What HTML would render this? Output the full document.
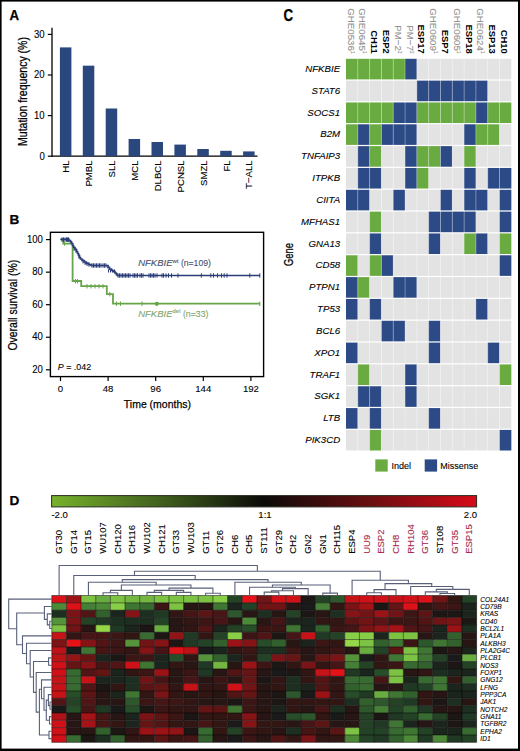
<!DOCTYPE html>
<html><head><meta charset="utf-8"><style>
html,body{margin:0;padding:0;background:#fff;}
body{width:520px;height:751px;overflow:hidden;position:relative;font-family:"Liberation Sans",sans-serif;}
svg{position:absolute;left:0;top:0;display:block;}
</style></head><body>
<svg width="520" height="751" viewBox="0 0 520 751">
<rect x="0" y="0" width="520" height="751" fill="#fff"/>
<text x="9.40" y="20.20" font-family="Liberation Sans, sans-serif" font-size="14.0" font-weight="bold" textLength="9.6" lengthAdjust="spacingAndGlyphs"  stroke="#000" stroke-width="0.25">A</text>
<line x1="52.00" y1="27.80" x2="52.00" y2="156.80" stroke="#000" stroke-width="1.3"/>
<line x1="51.40" y1="156.20" x2="257.50" y2="156.20" stroke="#000" stroke-width="1.3"/>
<line x1="47.80" y1="156.20" x2="52.00" y2="156.20" stroke="#000" stroke-width="1.2"/>
<text x="44.70" y="159.50" font-family="Liberation Sans, sans-serif" font-size="10.4" text-anchor="end" textLength="5.32" lengthAdjust="spacingAndGlyphs"  stroke="#000" stroke-width="0.1">0</text>
<line x1="47.80" y1="115.60" x2="52.00" y2="115.60" stroke="#000" stroke-width="1.2"/>
<text x="44.70" y="118.90" font-family="Liberation Sans, sans-serif" font-size="10.4" text-anchor="end" textLength="10.64" lengthAdjust="spacingAndGlyphs"  stroke="#000" stroke-width="0.1">10</text>
<line x1="47.80" y1="75.00" x2="52.00" y2="75.00" stroke="#000" stroke-width="1.2"/>
<text x="44.70" y="78.30" font-family="Liberation Sans, sans-serif" font-size="10.4" text-anchor="end" textLength="10.64" lengthAdjust="spacingAndGlyphs"  stroke="#000" stroke-width="0.1">20</text>
<line x1="47.80" y1="34.40" x2="52.00" y2="34.40" stroke="#000" stroke-width="1.2"/>
<text x="44.70" y="37.70" font-family="Liberation Sans, sans-serif" font-size="10.4" text-anchor="end" textLength="10.64" lengthAdjust="spacingAndGlyphs"  stroke="#000" stroke-width="0.1">30</text>
<text transform="translate(27.30,146.00) rotate(-90)" font-family="Liberation Sans, sans-serif" font-size="12.2" textLength="109" lengthAdjust="spacingAndGlyphs"  stroke="#000" stroke-width="0.25">Mutation frequency (%)</text>
<rect x="59.90" y="47.39" width="11.50" height="108.81" fill="#2b487e" />
<text transform="translate(69.25,160.40) rotate(-90)" font-family="Liberation Sans, sans-serif" font-size="9.6" text-anchor="end"  stroke="#000" stroke-width="0.1">HL</text>
<rect x="82.80" y="65.66" width="11.50" height="90.54" fill="#2b487e" />
<text transform="translate(92.15,160.40) rotate(-90)" font-family="Liberation Sans, sans-serif" font-size="9.6" text-anchor="end"  stroke="#000" stroke-width="0.1">PMBL</text>
<rect x="105.70" y="108.49" width="11.50" height="47.70" fill="#2b487e" />
<text transform="translate(115.05,160.40) rotate(-90)" font-family="Liberation Sans, sans-serif" font-size="9.6" text-anchor="end"  stroke="#000" stroke-width="0.1">SLL</text>
<rect x="128.60" y="138.99" width="11.50" height="17.21" fill="#2b487e" />
<text transform="translate(137.95,160.40) rotate(-90)" font-family="Liberation Sans, sans-serif" font-size="9.6" text-anchor="end"  stroke="#000" stroke-width="0.1">MCL</text>
<rect x="151.50" y="141.99" width="11.50" height="14.21" fill="#2b487e" />
<text transform="translate(160.85,160.40) rotate(-90)" font-family="Liberation Sans, sans-serif" font-size="9.6" text-anchor="end"  stroke="#000" stroke-width="0.1">DLBCL</text>
<rect x="174.40" y="144.59" width="11.50" height="11.61" fill="#2b487e" />
<text transform="translate(183.75,160.40) rotate(-90)" font-family="Liberation Sans, sans-serif" font-size="9.6" text-anchor="end"  stroke="#000" stroke-width="0.1">PCNSL</text>
<rect x="197.30" y="149.01" width="11.50" height="7.19" fill="#2b487e" />
<text transform="translate(206.65,160.40) rotate(-90)" font-family="Liberation Sans, sans-serif" font-size="9.6" text-anchor="end"  stroke="#000" stroke-width="0.1">SMZL</text>
<rect x="220.20" y="150.80" width="11.50" height="5.40" fill="#2b487e" />
<text transform="translate(229.55,160.40) rotate(-90)" font-family="Liberation Sans, sans-serif" font-size="9.6" text-anchor="end"  stroke="#000" stroke-width="0.1">FL</text>
<rect x="243.10" y="151.41" width="11.50" height="4.79" fill="#2b487e" />
<text transform="translate(252.45,160.40) rotate(-90)" font-family="Liberation Sans, sans-serif" font-size="9.6" text-anchor="end"  stroke="#000" stroke-width="0.1">T−ALL</text>
<text x="9.60" y="223.80" font-family="Liberation Sans, sans-serif" font-size="13.6" font-weight="bold"  stroke="#000" stroke-width="0.25">B</text>
<rect x="50.4" y="232.3" width="213.20000000000002" height="144.3" fill="none" stroke="#000" stroke-width="1.4"/>
<line x1="45.90" y1="239.60" x2="50.40" y2="239.60" stroke="#000" stroke-width="1.2"/>
<text x="42.90" y="242.80" font-family="Liberation Sans, sans-serif" font-size="10.4" text-anchor="end" textLength="15.96" lengthAdjust="spacingAndGlyphs"  stroke="#000" stroke-width="0.1">100</text>
<line x1="45.90" y1="272.15" x2="50.40" y2="272.15" stroke="#000" stroke-width="1.2"/>
<text x="42.90" y="275.35" font-family="Liberation Sans, sans-serif" font-size="10.4" text-anchor="end" textLength="10.64" lengthAdjust="spacingAndGlyphs"  stroke="#000" stroke-width="0.1">80</text>
<line x1="45.90" y1="304.70" x2="50.40" y2="304.70" stroke="#000" stroke-width="1.2"/>
<text x="42.90" y="307.90" font-family="Liberation Sans, sans-serif" font-size="10.4" text-anchor="end" textLength="10.64" lengthAdjust="spacingAndGlyphs"  stroke="#000" stroke-width="0.1">60</text>
<line x1="45.90" y1="337.25" x2="50.40" y2="337.25" stroke="#000" stroke-width="1.2"/>
<text x="42.90" y="340.45" font-family="Liberation Sans, sans-serif" font-size="10.4" text-anchor="end" textLength="10.64" lengthAdjust="spacingAndGlyphs"  stroke="#000" stroke-width="0.1">40</text>
<line x1="45.90" y1="369.80" x2="50.40" y2="369.80" stroke="#000" stroke-width="1.2"/>
<text x="42.90" y="373.00" font-family="Liberation Sans, sans-serif" font-size="10.4" text-anchor="end" textLength="10.64" lengthAdjust="spacingAndGlyphs"  stroke="#000" stroke-width="0.1">20</text>
<line x1="60.50" y1="376.60" x2="60.50" y2="381.00" stroke="#000" stroke-width="1.2"/>
<text x="60.50" y="392.00" font-family="Liberation Sans, sans-serif" font-size="9.6" text-anchor="middle"  stroke="#000" stroke-width="0.1">0</text>
<line x1="108.10" y1="376.60" x2="108.10" y2="381.00" stroke="#000" stroke-width="1.2"/>
<text x="108.10" y="392.00" font-family="Liberation Sans, sans-serif" font-size="9.6" text-anchor="middle"  stroke="#000" stroke-width="0.1">48</text>
<line x1="155.70" y1="376.60" x2="155.70" y2="381.00" stroke="#000" stroke-width="1.2"/>
<text x="155.70" y="392.00" font-family="Liberation Sans, sans-serif" font-size="9.6" text-anchor="middle"  stroke="#000" stroke-width="0.1">96</text>
<line x1="203.30" y1="376.60" x2="203.30" y2="381.00" stroke="#000" stroke-width="1.2"/>
<text x="203.30" y="392.00" font-family="Liberation Sans, sans-serif" font-size="9.6" text-anchor="middle"  stroke="#000" stroke-width="0.1">144</text>
<line x1="250.90" y1="376.60" x2="250.90" y2="381.00" stroke="#000" stroke-width="1.2"/>
<text x="250.90" y="392.00" font-family="Liberation Sans, sans-serif" font-size="9.6" text-anchor="middle"  stroke="#000" stroke-width="0.1">192</text>
<text transform="translate(17.20,350.60) rotate(-90)" font-family="Liberation Sans, sans-serif" font-size="12.0" textLength="90.8" lengthAdjust="spacingAndGlyphs"  stroke="#000" stroke-width="0.25">Overall survival (%)</text>
<text x="123.80" y="407.80" font-family="Liberation Sans, sans-serif" font-size="11.6" textLength="67.2" lengthAdjust="spacingAndGlyphs"  stroke="#000" stroke-width="0.25">Time (months)</text>
<text x="57.80" y="369.60" font-family="Liberation Sans, sans-serif" font-size="9.4" textLength="33.3" lengthAdjust="spacingAndGlyphs"  stroke="#000" stroke-width="0.1"><tspan font-style="italic">P</tspan> = .042</text>
<path d="M60.50,239.40 H63.20 V239.40 H63.20 V243.60 H72.60 V243.60 H72.60 V281.00 H81.20 V281.00 H81.20 V286.20 H106.80 V286.20 H106.80 V294.20 H113.00 V294.20 H113.00 V303.70 H260.00 V303.70" fill="none" stroke="#66a549" stroke-width="1.8"/>
<path d="M60.50,239.40 H66.00 V239.40 H69.00 V240.60 H70.50 V241.80 H71.50 V243.50 H72.50 V245.50 H73.50 V247.50 H75.00 V249.50 H76.50 V251.50 H77.50 V253.50 H78.50 V255.50 H79.50 V257.50 H80.50 V259.00 H82.00 V260.50 H84.00 V262.00 H86.00 V263.40 H88.50 V264.50 H91.00 V265.50 H106.50 V265.50 H108.00 V267.30 H109.50 V269.20 H111.50 V270.50 H113.50 V271.60 H115.00 V273.00 H116.30 V274.30 H117.30 V275.50 H260.00 V275.50" fill="none" stroke="#2b3c78" stroke-width="1.7"/>
<line x1="62.00" y1="237.40" x2="62.00" y2="241.80" stroke="#2b3c78" stroke-width="1.0"/>
<line x1="63.50" y1="237.40" x2="63.50" y2="241.80" stroke="#2b3c78" stroke-width="1.0"/>
<line x1="65.00" y1="237.40" x2="65.00" y2="241.80" stroke="#2b3c78" stroke-width="1.0"/>
<line x1="66.50" y1="237.40" x2="66.50" y2="241.80" stroke="#2b3c78" stroke-width="1.0"/>
<line x1="67.50" y1="237.40" x2="67.50" y2="241.80" stroke="#2b3c78" stroke-width="1.0"/>
<line x1="68.50" y1="237.40" x2="68.50" y2="241.80" stroke="#2b3c78" stroke-width="1.0"/>
<line x1="74.00" y1="246.30" x2="74.00" y2="250.70" stroke="#2b3c78" stroke-width="1.0"/>
<line x1="76.00" y1="248.30" x2="76.00" y2="252.70" stroke="#2b3c78" stroke-width="1.0"/>
<line x1="79.00" y1="254.30" x2="79.00" y2="258.70" stroke="#2b3c78" stroke-width="1.0"/>
<line x1="83.00" y1="259.10" x2="83.00" y2="263.50" stroke="#2b3c78" stroke-width="1.0"/>
<line x1="85.00" y1="260.50" x2="85.00" y2="264.90" stroke="#2b3c78" stroke-width="1.0"/>
<line x1="87.00" y1="261.60" x2="87.00" y2="266.00" stroke="#2b3c78" stroke-width="1.0"/>
<line x1="89.00" y1="262.40" x2="89.00" y2="266.80" stroke="#2b3c78" stroke-width="1.0"/>
<line x1="92.00" y1="263.30" x2="92.00" y2="267.70" stroke="#2b3c78" stroke-width="1.0"/>
<line x1="93.50" y1="263.30" x2="93.50" y2="267.70" stroke="#2b3c78" stroke-width="1.0"/>
<line x1="95.00" y1="263.30" x2="95.00" y2="267.70" stroke="#2b3c78" stroke-width="1.0"/>
<line x1="96.50" y1="263.30" x2="96.50" y2="267.70" stroke="#2b3c78" stroke-width="1.0"/>
<line x1="98.00" y1="263.30" x2="98.00" y2="267.70" stroke="#2b3c78" stroke-width="1.0"/>
<line x1="99.50" y1="263.30" x2="99.50" y2="267.70" stroke="#2b3c78" stroke-width="1.0"/>
<line x1="101.00" y1="263.30" x2="101.00" y2="267.70" stroke="#2b3c78" stroke-width="1.0"/>
<line x1="103.00" y1="263.30" x2="103.00" y2="267.70" stroke="#2b3c78" stroke-width="1.0"/>
<line x1="104.50" y1="263.30" x2="104.50" y2="267.70" stroke="#2b3c78" stroke-width="1.0"/>
<line x1="106.00" y1="263.30" x2="106.00" y2="267.70" stroke="#2b3c78" stroke-width="1.0"/>
<line x1="108.50" y1="269.50" x2="108.50" y2="272.50" stroke="#2b3c78" stroke-width="1.0"/>
<line x1="110.50" y1="269.50" x2="110.50" y2="272.50" stroke="#2b3c78" stroke-width="1.0"/>
<line x1="112.50" y1="269.50" x2="112.50" y2="272.50" stroke="#2b3c78" stroke-width="1.0"/>
<line x1="114.50" y1="269.50" x2="114.50" y2="272.50" stroke="#2b3c78" stroke-width="1.0"/>
<line x1="118.00" y1="273.30" x2="118.00" y2="277.70" stroke="#2b3c78" stroke-width="1.0"/>
<line x1="119.50" y1="273.30" x2="119.50" y2="277.70" stroke="#2b3c78" stroke-width="1.0"/>
<line x1="121.00" y1="273.30" x2="121.00" y2="277.70" stroke="#2b3c78" stroke-width="1.0"/>
<line x1="122.50" y1="273.30" x2="122.50" y2="277.70" stroke="#2b3c78" stroke-width="1.0"/>
<line x1="124.00" y1="273.30" x2="124.00" y2="277.70" stroke="#2b3c78" stroke-width="1.0"/>
<line x1="125.50" y1="273.30" x2="125.50" y2="277.70" stroke="#2b3c78" stroke-width="1.0"/>
<line x1="127.00" y1="273.30" x2="127.00" y2="277.70" stroke="#2b3c78" stroke-width="1.0"/>
<line x1="128.50" y1="273.30" x2="128.50" y2="277.70" stroke="#2b3c78" stroke-width="1.0"/>
<line x1="130.00" y1="273.30" x2="130.00" y2="277.70" stroke="#2b3c78" stroke-width="1.0"/>
<line x1="133.00" y1="273.30" x2="133.00" y2="277.70" stroke="#2b3c78" stroke-width="1.0"/>
<line x1="134.50" y1="273.30" x2="134.50" y2="277.70" stroke="#2b3c78" stroke-width="1.0"/>
<line x1="136.00" y1="273.30" x2="136.00" y2="277.70" stroke="#2b3c78" stroke-width="1.0"/>
<line x1="137.50" y1="273.30" x2="137.50" y2="277.70" stroke="#2b3c78" stroke-width="1.0"/>
<line x1="140.00" y1="273.30" x2="140.00" y2="277.70" stroke="#2b3c78" stroke-width="1.0"/>
<line x1="141.50" y1="273.30" x2="141.50" y2="277.70" stroke="#2b3c78" stroke-width="1.0"/>
<line x1="143.00" y1="273.30" x2="143.00" y2="277.70" stroke="#2b3c78" stroke-width="1.0"/>
<line x1="149.00" y1="273.30" x2="149.00" y2="277.70" stroke="#2b3c78" stroke-width="1.0"/>
<line x1="150.50" y1="273.30" x2="150.50" y2="277.70" stroke="#2b3c78" stroke-width="1.0"/>
<line x1="152.00" y1="273.30" x2="152.00" y2="277.70" stroke="#2b3c78" stroke-width="1.0"/>
<line x1="153.50" y1="273.30" x2="153.50" y2="277.70" stroke="#2b3c78" stroke-width="1.0"/>
<line x1="155.00" y1="273.30" x2="155.00" y2="277.70" stroke="#2b3c78" stroke-width="1.0"/>
<line x1="157.00" y1="273.30" x2="157.00" y2="277.70" stroke="#2b3c78" stroke-width="1.0"/>
<line x1="162.00" y1="273.30" x2="162.00" y2="277.70" stroke="#2b3c78" stroke-width="1.0"/>
<line x1="163.50" y1="273.30" x2="163.50" y2="277.70" stroke="#2b3c78" stroke-width="1.0"/>
<line x1="166.00" y1="273.30" x2="166.00" y2="277.70" stroke="#2b3c78" stroke-width="1.0"/>
<line x1="168.50" y1="273.30" x2="168.50" y2="277.70" stroke="#2b3c78" stroke-width="1.0"/>
<line x1="171.50" y1="273.30" x2="171.50" y2="277.70" stroke="#2b3c78" stroke-width="1.0"/>
<line x1="178.00" y1="273.30" x2="178.00" y2="277.70" stroke="#2b3c78" stroke-width="1.0"/>
<line x1="201.30" y1="273.30" x2="201.30" y2="277.70" stroke="#2b3c78" stroke-width="1.0"/>
<line x1="210.80" y1="273.30" x2="210.80" y2="277.70" stroke="#2b3c78" stroke-width="1.0"/>
<line x1="213.50" y1="273.30" x2="213.50" y2="277.70" stroke="#2b3c78" stroke-width="1.0"/>
<line x1="217.50" y1="273.30" x2="217.50" y2="277.70" stroke="#2b3c78" stroke-width="1.0"/>
<line x1="221.50" y1="273.30" x2="221.50" y2="277.70" stroke="#2b3c78" stroke-width="1.0"/>
<line x1="224.20" y1="273.30" x2="224.20" y2="277.70" stroke="#2b3c78" stroke-width="1.0"/>
<line x1="227.00" y1="273.30" x2="227.00" y2="277.70" stroke="#2b3c78" stroke-width="1.0"/>
<line x1="249.80" y1="273.30" x2="249.80" y2="277.70" stroke="#2b3c78" stroke-width="1.0"/>
<line x1="259.80" y1="273.30" x2="259.80" y2="277.70" stroke="#2b3c78" stroke-width="1.0"/>
<line x1="64.50" y1="241.40" x2="64.50" y2="245.80" stroke="#66a549" stroke-width="1.0"/>
<line x1="72.60" y1="254.40" x2="72.60" y2="254.60" stroke="#66a549" stroke-width="0"/>
<line x1="75.50" y1="279.00" x2="75.50" y2="283.40" stroke="#66a549" stroke-width="1.0"/>
<line x1="77.50" y1="279.00" x2="77.50" y2="283.40" stroke="#66a549" stroke-width="1.0"/>
<line x1="87.00" y1="284.10" x2="87.00" y2="288.50" stroke="#66a549" stroke-width="1.0"/>
<line x1="91.00" y1="284.10" x2="91.00" y2="288.50" stroke="#66a549" stroke-width="1.0"/>
<line x1="95.00" y1="284.10" x2="95.00" y2="288.50" stroke="#66a549" stroke-width="1.0"/>
<line x1="99.00" y1="284.10" x2="99.00" y2="288.50" stroke="#66a549" stroke-width="1.0"/>
<line x1="103.00" y1="284.10" x2="103.00" y2="288.50" stroke="#66a549" stroke-width="1.0"/>
<line x1="109.80" y1="292.00" x2="109.80" y2="296.40" stroke="#66a549" stroke-width="1.0"/>
<line x1="116.50" y1="301.50" x2="116.50" y2="305.90" stroke="#66a549" stroke-width="1.0"/>
<line x1="120.50" y1="301.50" x2="120.50" y2="305.90" stroke="#66a549" stroke-width="1.0"/>
<line x1="142.00" y1="301.50" x2="142.00" y2="305.90" stroke="#66a549" stroke-width="1.0"/>
<circle cx="156.8" cy="303.8" r="2.1" fill="#66a549"/>
<line x1="259.80" y1="301.60" x2="259.80" y2="306.00" stroke="#66a549" stroke-width="1.0"/>
<text x="138.20" y="266.30" font-family="Liberation Sans, sans-serif" font-size="9.5" fill="#454f6c"  stroke="#454f6c" stroke-width="0.1"><tspan font-style="italic">NFKBIE</tspan><tspan font-size="6" dy="-3.6">wt</tspan><tspan dy="3.6" textLength="32.4" lengthAdjust="spacingAndGlyphs"> (n=109)</tspan></text>
<text x="138.20" y="316.70" font-family="Liberation Sans, sans-serif" font-size="9.5" fill="#80a56c"  stroke="#80a56c" stroke-width="0.1"><tspan font-style="italic">NFKBIE</tspan><tspan font-size="6" dy="-3.6">del</tspan><tspan dy="3.6" textLength="28" lengthAdjust="spacingAndGlyphs"> (n=33)</tspan></text>
<text x="283.40" y="20.50" font-family="Liberation Sans, sans-serif" font-size="16.0" font-weight="bold" textLength="9.6" lengthAdjust="spacingAndGlyphs"  stroke="#000" stroke-width="0.25">C</text>
<rect x="346.00" y="58.80" width="11.81" height="20.60" fill="#69ab40" />
<rect x="357.81" y="58.80" width="11.81" height="20.60" fill="#69ab40" />
<rect x="369.62" y="58.80" width="11.81" height="20.60" fill="#69ab40" />
<rect x="381.43" y="58.80" width="11.81" height="20.60" fill="#69ab40" />
<rect x="393.24" y="58.80" width="11.81" height="20.60" fill="#69ab40" />
<rect x="405.05" y="58.80" width="11.81" height="20.60" fill="#2c4a86" />
<rect x="416.86" y="58.80" width="11.81" height="20.60" fill="#e3e3e3" />
<rect x="428.67" y="58.80" width="11.81" height="20.60" fill="#e3e3e3" />
<rect x="440.48" y="58.80" width="11.81" height="20.60" fill="#e3e3e3" />
<rect x="452.29" y="58.80" width="11.81" height="20.60" fill="#e3e3e3" />
<rect x="464.10" y="58.80" width="11.81" height="20.60" fill="#e3e3e3" />
<rect x="475.91" y="58.80" width="11.81" height="20.60" fill="#e3e3e3" />
<rect x="487.72" y="58.80" width="11.81" height="20.60" fill="#e3e3e3" />
<rect x="499.53" y="58.80" width="11.81" height="20.60" fill="#e3e3e3" />
<text x="340.20" y="72.00" font-family="Liberation Sans, sans-serif" font-size="9.7" font-style="italic" text-anchor="end"  stroke="#000" stroke-width="0.1">NFKBIE</text>
<rect x="346.00" y="80.63" width="11.81" height="20.60" fill="#e3e3e3" />
<rect x="357.81" y="80.63" width="11.81" height="20.60" fill="#e3e3e3" />
<rect x="369.62" y="80.63" width="11.81" height="20.60" fill="#e3e3e3" />
<rect x="381.43" y="80.63" width="11.81" height="20.60" fill="#e3e3e3" />
<rect x="393.24" y="80.63" width="11.81" height="20.60" fill="#e3e3e3" />
<rect x="405.05" y="80.63" width="11.81" height="20.60" fill="#e3e3e3" />
<rect x="416.86" y="80.63" width="11.81" height="20.60" fill="#2c4a86" />
<rect x="428.67" y="80.63" width="11.81" height="20.60" fill="#2c4a86" />
<rect x="440.48" y="80.63" width="11.81" height="20.60" fill="#2c4a86" />
<rect x="452.29" y="80.63" width="11.81" height="20.60" fill="#2c4a86" />
<rect x="464.10" y="80.63" width="11.81" height="20.60" fill="#2c4a86" />
<rect x="475.91" y="80.63" width="11.81" height="20.60" fill="#2c4a86" />
<rect x="487.72" y="80.63" width="11.81" height="20.60" fill="#e3e3e3" />
<rect x="499.53" y="80.63" width="11.81" height="20.60" fill="#e3e3e3" />
<text x="340.20" y="93.83" font-family="Liberation Sans, sans-serif" font-size="9.7" font-style="italic" text-anchor="end"  stroke="#000" stroke-width="0.1">STAT6</text>
<rect x="346.00" y="102.46" width="11.81" height="20.60" fill="#69ab40" />
<rect x="357.81" y="102.46" width="11.81" height="20.60" fill="#69ab40" />
<rect x="369.62" y="102.46" width="11.81" height="20.60" fill="#69ab40" />
<rect x="381.43" y="102.46" width="11.81" height="20.60" fill="#69ab40" />
<rect x="393.24" y="102.46" width="11.81" height="20.60" fill="#2c4a86" />
<rect x="405.05" y="102.46" width="11.81" height="20.60" fill="#2c4a86" />
<rect x="416.86" y="102.46" width="11.81" height="20.60" fill="#69ab40" />
<rect x="428.67" y="102.46" width="11.81" height="20.60" fill="#69ab40" />
<rect x="440.48" y="102.46" width="11.81" height="20.60" fill="#69ab40" />
<rect x="452.29" y="102.46" width="11.81" height="20.60" fill="#69ab40" />
<rect x="464.10" y="102.46" width="11.81" height="20.60" fill="#69ab40" />
<rect x="475.91" y="102.46" width="11.81" height="20.60" fill="#2c4a86" />
<rect x="487.72" y="102.46" width="11.81" height="20.60" fill="#69ab40" />
<rect x="499.53" y="102.46" width="11.81" height="20.60" fill="#69ab40" />
<text x="340.20" y="115.66" font-family="Liberation Sans, sans-serif" font-size="9.7" font-style="italic" text-anchor="end"  stroke="#000" stroke-width="0.1">SOCS1</text>
<rect x="346.00" y="124.29" width="11.81" height="20.60" fill="#69ab40" />
<rect x="357.81" y="124.29" width="11.81" height="20.60" fill="#2c4a86" />
<rect x="369.62" y="124.29" width="11.81" height="20.60" fill="#69ab40" />
<rect x="381.43" y="124.29" width="11.81" height="20.60" fill="#2c4a86" />
<rect x="393.24" y="124.29" width="11.81" height="20.60" fill="#2c4a86" />
<rect x="405.05" y="124.29" width="11.81" height="20.60" fill="#2c4a86" />
<rect x="416.86" y="124.29" width="11.81" height="20.60" fill="#e3e3e3" />
<rect x="428.67" y="124.29" width="11.81" height="20.60" fill="#e3e3e3" />
<rect x="440.48" y="124.29" width="11.81" height="20.60" fill="#e3e3e3" />
<rect x="452.29" y="124.29" width="11.81" height="20.60" fill="#e3e3e3" />
<rect x="464.10" y="124.29" width="11.81" height="20.60" fill="#2c4a86" />
<rect x="475.91" y="124.29" width="11.81" height="20.60" fill="#69ab40" />
<rect x="487.72" y="124.29" width="11.81" height="20.60" fill="#69ab40" />
<rect x="499.53" y="124.29" width="11.81" height="20.60" fill="#e3e3e3" />
<text x="340.20" y="137.49" font-family="Liberation Sans, sans-serif" font-size="9.7" font-style="italic" text-anchor="end"  stroke="#000" stroke-width="0.1">B2M</text>
<rect x="346.00" y="146.12" width="11.81" height="20.60" fill="#e3e3e3" />
<rect x="357.81" y="146.12" width="11.81" height="20.60" fill="#2c4a86" />
<rect x="369.62" y="146.12" width="11.81" height="20.60" fill="#69ab40" />
<rect x="381.43" y="146.12" width="11.81" height="20.60" fill="#e3e3e3" />
<rect x="393.24" y="146.12" width="11.81" height="20.60" fill="#e3e3e3" />
<rect x="405.05" y="146.12" width="11.81" height="20.60" fill="#2c4a86" />
<rect x="416.86" y="146.12" width="11.81" height="20.60" fill="#69ab40" />
<rect x="428.67" y="146.12" width="11.81" height="20.60" fill="#69ab40" />
<rect x="440.48" y="146.12" width="11.81" height="20.60" fill="#2c4a86" />
<rect x="452.29" y="146.12" width="11.81" height="20.60" fill="#e3e3e3" />
<rect x="464.10" y="146.12" width="11.81" height="20.60" fill="#69ab40" />
<rect x="475.91" y="146.12" width="11.81" height="20.60" fill="#e3e3e3" />
<rect x="487.72" y="146.12" width="11.81" height="20.60" fill="#e3e3e3" />
<rect x="499.53" y="146.12" width="11.81" height="20.60" fill="#e3e3e3" />
<text x="340.20" y="159.32" font-family="Liberation Sans, sans-serif" font-size="9.7" font-style="italic" text-anchor="end"  stroke="#000" stroke-width="0.1">TNFAIP3</text>
<rect x="346.00" y="167.95" width="11.81" height="20.60" fill="#e3e3e3" />
<rect x="357.81" y="167.95" width="11.81" height="20.60" fill="#2c4a86" />
<rect x="369.62" y="167.95" width="11.81" height="20.60" fill="#2c4a86" />
<rect x="381.43" y="167.95" width="11.81" height="20.60" fill="#e3e3e3" />
<rect x="393.24" y="167.95" width="11.81" height="20.60" fill="#e3e3e3" />
<rect x="405.05" y="167.95" width="11.81" height="20.60" fill="#2c4a86" />
<rect x="416.86" y="167.95" width="11.81" height="20.60" fill="#69ab40" />
<rect x="428.67" y="167.95" width="11.81" height="20.60" fill="#e3e3e3" />
<rect x="440.48" y="167.95" width="11.81" height="20.60" fill="#e3e3e3" />
<rect x="452.29" y="167.95" width="11.81" height="20.60" fill="#e3e3e3" />
<rect x="464.10" y="167.95" width="11.81" height="20.60" fill="#2c4a86" />
<rect x="475.91" y="167.95" width="11.81" height="20.60" fill="#e3e3e3" />
<rect x="487.72" y="167.95" width="11.81" height="20.60" fill="#2c4a86" />
<rect x="499.53" y="167.95" width="11.81" height="20.60" fill="#2c4a86" />
<text x="340.20" y="181.15" font-family="Liberation Sans, sans-serif" font-size="9.7" font-style="italic" text-anchor="end"  stroke="#000" stroke-width="0.1">ITPKB</text>
<rect x="346.00" y="189.78" width="11.81" height="20.60" fill="#2c4a86" />
<rect x="357.81" y="189.78" width="11.81" height="20.60" fill="#2c4a86" />
<rect x="369.62" y="189.78" width="11.81" height="20.60" fill="#e3e3e3" />
<rect x="381.43" y="189.78" width="11.81" height="20.60" fill="#e3e3e3" />
<rect x="393.24" y="189.78" width="11.81" height="20.60" fill="#2c4a86" />
<rect x="405.05" y="189.78" width="11.81" height="20.60" fill="#e3e3e3" />
<rect x="416.86" y="189.78" width="11.81" height="20.60" fill="#e3e3e3" />
<rect x="428.67" y="189.78" width="11.81" height="20.60" fill="#e3e3e3" />
<rect x="440.48" y="189.78" width="11.81" height="20.60" fill="#2c4a86" />
<rect x="452.29" y="189.78" width="11.81" height="20.60" fill="#e3e3e3" />
<rect x="464.10" y="189.78" width="11.81" height="20.60" fill="#2c4a86" />
<rect x="475.91" y="189.78" width="11.81" height="20.60" fill="#2c4a86" />
<rect x="487.72" y="189.78" width="11.81" height="20.60" fill="#e3e3e3" />
<rect x="499.53" y="189.78" width="11.81" height="20.60" fill="#2c4a86" />
<text x="340.20" y="202.98" font-family="Liberation Sans, sans-serif" font-size="9.7" font-style="italic" text-anchor="end"  stroke="#000" stroke-width="0.1">CIITA</text>
<rect x="346.00" y="211.61" width="11.81" height="20.60" fill="#e3e3e3" />
<rect x="357.81" y="211.61" width="11.81" height="20.60" fill="#e3e3e3" />
<rect x="369.62" y="211.61" width="11.81" height="20.60" fill="#69ab40" />
<rect x="381.43" y="211.61" width="11.81" height="20.60" fill="#e3e3e3" />
<rect x="393.24" y="211.61" width="11.81" height="20.60" fill="#e3e3e3" />
<rect x="405.05" y="211.61" width="11.81" height="20.60" fill="#e3e3e3" />
<rect x="416.86" y="211.61" width="11.81" height="20.60" fill="#e3e3e3" />
<rect x="428.67" y="211.61" width="11.81" height="20.60" fill="#2c4a86" />
<rect x="440.48" y="211.61" width="11.81" height="20.60" fill="#2c4a86" />
<rect x="452.29" y="211.61" width="11.81" height="20.60" fill="#2c4a86" />
<rect x="464.10" y="211.61" width="11.81" height="20.60" fill="#2c4a86" />
<rect x="475.91" y="211.61" width="11.81" height="20.60" fill="#e3e3e3" />
<rect x="487.72" y="211.61" width="11.81" height="20.60" fill="#e3e3e3" />
<rect x="499.53" y="211.61" width="11.81" height="20.60" fill="#2c4a86" />
<text x="340.20" y="224.81" font-family="Liberation Sans, sans-serif" font-size="9.7" font-style="italic" text-anchor="end"  stroke="#000" stroke-width="0.1">MFHAS1</text>
<rect x="346.00" y="233.44" width="11.81" height="20.60" fill="#e3e3e3" />
<rect x="357.81" y="233.44" width="11.81" height="20.60" fill="#e3e3e3" />
<rect x="369.62" y="233.44" width="11.81" height="20.60" fill="#2c4a86" />
<rect x="381.43" y="233.44" width="11.81" height="20.60" fill="#e3e3e3" />
<rect x="393.24" y="233.44" width="11.81" height="20.60" fill="#e3e3e3" />
<rect x="405.05" y="233.44" width="11.81" height="20.60" fill="#e3e3e3" />
<rect x="416.86" y="233.44" width="11.81" height="20.60" fill="#e3e3e3" />
<rect x="428.67" y="233.44" width="11.81" height="20.60" fill="#2c4a86" />
<rect x="440.48" y="233.44" width="11.81" height="20.60" fill="#e3e3e3" />
<rect x="452.29" y="233.44" width="11.81" height="20.60" fill="#e3e3e3" />
<rect x="464.10" y="233.44" width="11.81" height="20.60" fill="#69ab40" />
<rect x="475.91" y="233.44" width="11.81" height="20.60" fill="#2c4a86" />
<rect x="487.72" y="233.44" width="11.81" height="20.60" fill="#e3e3e3" />
<rect x="499.53" y="233.44" width="11.81" height="20.60" fill="#69ab40" />
<text x="340.20" y="246.64" font-family="Liberation Sans, sans-serif" font-size="9.7" font-style="italic" text-anchor="end"  stroke="#000" stroke-width="0.1">GNA13</text>
<rect x="346.00" y="255.27" width="11.81" height="20.60" fill="#69ab40" />
<rect x="357.81" y="255.27" width="11.81" height="20.60" fill="#e3e3e3" />
<rect x="369.62" y="255.27" width="11.81" height="20.60" fill="#69ab40" />
<rect x="381.43" y="255.27" width="11.81" height="20.60" fill="#2c4a86" />
<rect x="393.24" y="255.27" width="11.81" height="20.60" fill="#e3e3e3" />
<rect x="405.05" y="255.27" width="11.81" height="20.60" fill="#e3e3e3" />
<rect x="416.86" y="255.27" width="11.81" height="20.60" fill="#e3e3e3" />
<rect x="428.67" y="255.27" width="11.81" height="20.60" fill="#e3e3e3" />
<rect x="440.48" y="255.27" width="11.81" height="20.60" fill="#e3e3e3" />
<rect x="452.29" y="255.27" width="11.81" height="20.60" fill="#e3e3e3" />
<rect x="464.10" y="255.27" width="11.81" height="20.60" fill="#e3e3e3" />
<rect x="475.91" y="255.27" width="11.81" height="20.60" fill="#e3e3e3" />
<rect x="487.72" y="255.27" width="11.81" height="20.60" fill="#e3e3e3" />
<rect x="499.53" y="255.27" width="11.81" height="20.60" fill="#2c4a86" />
<text x="340.20" y="268.47" font-family="Liberation Sans, sans-serif" font-size="9.7" font-style="italic" text-anchor="end"  stroke="#000" stroke-width="0.1">CD58</text>
<rect x="346.00" y="277.10" width="11.81" height="20.60" fill="#2c4a86" />
<rect x="357.81" y="277.10" width="11.81" height="20.60" fill="#69ab40" />
<rect x="369.62" y="277.10" width="11.81" height="20.60" fill="#e3e3e3" />
<rect x="381.43" y="277.10" width="11.81" height="20.60" fill="#e3e3e3" />
<rect x="393.24" y="277.10" width="11.81" height="20.60" fill="#2c4a86" />
<rect x="405.05" y="277.10" width="11.81" height="20.60" fill="#2c4a86" />
<rect x="416.86" y="277.10" width="11.81" height="20.60" fill="#e3e3e3" />
<rect x="428.67" y="277.10" width="11.81" height="20.60" fill="#e3e3e3" />
<rect x="440.48" y="277.10" width="11.81" height="20.60" fill="#e3e3e3" />
<rect x="452.29" y="277.10" width="11.81" height="20.60" fill="#e3e3e3" />
<rect x="464.10" y="277.10" width="11.81" height="20.60" fill="#e3e3e3" />
<rect x="475.91" y="277.10" width="11.81" height="20.60" fill="#e3e3e3" />
<rect x="487.72" y="277.10" width="11.81" height="20.60" fill="#e3e3e3" />
<rect x="499.53" y="277.10" width="11.81" height="20.60" fill="#e3e3e3" />
<text x="340.20" y="290.30" font-family="Liberation Sans, sans-serif" font-size="9.7" font-style="italic" text-anchor="end"  stroke="#000" stroke-width="0.1">PTPN1</text>
<rect x="346.00" y="298.93" width="11.81" height="20.60" fill="#2c4a86" />
<rect x="357.81" y="298.93" width="11.81" height="20.60" fill="#e3e3e3" />
<rect x="369.62" y="298.93" width="11.81" height="20.60" fill="#2c4a86" />
<rect x="381.43" y="298.93" width="11.81" height="20.60" fill="#e3e3e3" />
<rect x="393.24" y="298.93" width="11.81" height="20.60" fill="#e3e3e3" />
<rect x="405.05" y="298.93" width="11.81" height="20.60" fill="#e3e3e3" />
<rect x="416.86" y="298.93" width="11.81" height="20.60" fill="#e3e3e3" />
<rect x="428.67" y="298.93" width="11.81" height="20.60" fill="#e3e3e3" />
<rect x="440.48" y="298.93" width="11.81" height="20.60" fill="#e3e3e3" />
<rect x="452.29" y="298.93" width="11.81" height="20.60" fill="#e3e3e3" />
<rect x="464.10" y="298.93" width="11.81" height="20.60" fill="#e3e3e3" />
<rect x="475.91" y="298.93" width="11.81" height="20.60" fill="#2c4a86" />
<rect x="487.72" y="298.93" width="11.81" height="20.60" fill="#e3e3e3" />
<rect x="499.53" y="298.93" width="11.81" height="20.60" fill="#e3e3e3" />
<text x="340.20" y="312.13" font-family="Liberation Sans, sans-serif" font-size="9.7" font-style="italic" text-anchor="end"  stroke="#000" stroke-width="0.1">TP53</text>
<rect x="346.00" y="320.76" width="11.81" height="20.60" fill="#e3e3e3" />
<rect x="357.81" y="320.76" width="11.81" height="20.60" fill="#e3e3e3" />
<rect x="369.62" y="320.76" width="11.81" height="20.60" fill="#e3e3e3" />
<rect x="381.43" y="320.76" width="11.81" height="20.60" fill="#2c4a86" />
<rect x="393.24" y="320.76" width="11.81" height="20.60" fill="#2c4a86" />
<rect x="405.05" y="320.76" width="11.81" height="20.60" fill="#e3e3e3" />
<rect x="416.86" y="320.76" width="11.81" height="20.60" fill="#e3e3e3" />
<rect x="428.67" y="320.76" width="11.81" height="20.60" fill="#2c4a86" />
<rect x="440.48" y="320.76" width="11.81" height="20.60" fill="#e3e3e3" />
<rect x="452.29" y="320.76" width="11.81" height="20.60" fill="#e3e3e3" />
<rect x="464.10" y="320.76" width="11.81" height="20.60" fill="#e3e3e3" />
<rect x="475.91" y="320.76" width="11.81" height="20.60" fill="#e3e3e3" />
<rect x="487.72" y="320.76" width="11.81" height="20.60" fill="#e3e3e3" />
<rect x="499.53" y="320.76" width="11.81" height="20.60" fill="#e3e3e3" />
<text x="340.20" y="333.96" font-family="Liberation Sans, sans-serif" font-size="9.7" font-style="italic" text-anchor="end"  stroke="#000" stroke-width="0.1">BCL6</text>
<rect x="346.00" y="342.59" width="11.81" height="20.60" fill="#2c4a86" />
<rect x="357.81" y="342.59" width="11.81" height="20.60" fill="#e3e3e3" />
<rect x="369.62" y="342.59" width="11.81" height="20.60" fill="#e3e3e3" />
<rect x="381.43" y="342.59" width="11.81" height="20.60" fill="#e3e3e3" />
<rect x="393.24" y="342.59" width="11.81" height="20.60" fill="#e3e3e3" />
<rect x="405.05" y="342.59" width="11.81" height="20.60" fill="#e3e3e3" />
<rect x="416.86" y="342.59" width="11.81" height="20.60" fill="#e3e3e3" />
<rect x="428.67" y="342.59" width="11.81" height="20.60" fill="#2c4a86" />
<rect x="440.48" y="342.59" width="11.81" height="20.60" fill="#e3e3e3" />
<rect x="452.29" y="342.59" width="11.81" height="20.60" fill="#e3e3e3" />
<rect x="464.10" y="342.59" width="11.81" height="20.60" fill="#e3e3e3" />
<rect x="475.91" y="342.59" width="11.81" height="20.60" fill="#e3e3e3" />
<rect x="487.72" y="342.59" width="11.81" height="20.60" fill="#2c4a86" />
<rect x="499.53" y="342.59" width="11.81" height="20.60" fill="#e3e3e3" />
<text x="340.20" y="355.79" font-family="Liberation Sans, sans-serif" font-size="9.7" font-style="italic" text-anchor="end"  stroke="#000" stroke-width="0.1">XPO1</text>
<rect x="346.00" y="364.42" width="11.81" height="20.60" fill="#e3e3e3" />
<rect x="357.81" y="364.42" width="11.81" height="20.60" fill="#69ab40" />
<rect x="369.62" y="364.42" width="11.81" height="20.60" fill="#e3e3e3" />
<rect x="381.43" y="364.42" width="11.81" height="20.60" fill="#e3e3e3" />
<rect x="393.24" y="364.42" width="11.81" height="20.60" fill="#e3e3e3" />
<rect x="405.05" y="364.42" width="11.81" height="20.60" fill="#2c4a86" />
<rect x="416.86" y="364.42" width="11.81" height="20.60" fill="#e3e3e3" />
<rect x="428.67" y="364.42" width="11.81" height="20.60" fill="#e3e3e3" />
<rect x="440.48" y="364.42" width="11.81" height="20.60" fill="#e3e3e3" />
<rect x="452.29" y="364.42" width="11.81" height="20.60" fill="#e3e3e3" />
<rect x="464.10" y="364.42" width="11.81" height="20.60" fill="#e3e3e3" />
<rect x="475.91" y="364.42" width="11.81" height="20.60" fill="#e3e3e3" />
<rect x="487.72" y="364.42" width="11.81" height="20.60" fill="#e3e3e3" />
<rect x="499.53" y="364.42" width="11.81" height="20.60" fill="#69ab40" />
<text x="340.20" y="377.62" font-family="Liberation Sans, sans-serif" font-size="9.7" font-style="italic" text-anchor="end"  stroke="#000" stroke-width="0.1">TRAF1</text>
<rect x="346.00" y="386.25" width="11.81" height="20.60" fill="#e3e3e3" />
<rect x="357.81" y="386.25" width="11.81" height="20.60" fill="#2c4a86" />
<rect x="369.62" y="386.25" width="11.81" height="20.60" fill="#2c4a86" />
<rect x="381.43" y="386.25" width="11.81" height="20.60" fill="#e3e3e3" />
<rect x="393.24" y="386.25" width="11.81" height="20.60" fill="#e3e3e3" />
<rect x="405.05" y="386.25" width="11.81" height="20.60" fill="#2c4a86" />
<rect x="416.86" y="386.25" width="11.81" height="20.60" fill="#e3e3e3" />
<rect x="428.67" y="386.25" width="11.81" height="20.60" fill="#e3e3e3" />
<rect x="440.48" y="386.25" width="11.81" height="20.60" fill="#e3e3e3" />
<rect x="452.29" y="386.25" width="11.81" height="20.60" fill="#e3e3e3" />
<rect x="464.10" y="386.25" width="11.81" height="20.60" fill="#e3e3e3" />
<rect x="475.91" y="386.25" width="11.81" height="20.60" fill="#e3e3e3" />
<rect x="487.72" y="386.25" width="11.81" height="20.60" fill="#e3e3e3" />
<rect x="499.53" y="386.25" width="11.81" height="20.60" fill="#e3e3e3" />
<text x="340.20" y="399.45" font-family="Liberation Sans, sans-serif" font-size="9.7" font-style="italic" text-anchor="end"  stroke="#000" stroke-width="0.1">SGK1</text>
<rect x="346.00" y="408.08" width="11.81" height="20.60" fill="#2c4a86" />
<rect x="357.81" y="408.08" width="11.81" height="20.60" fill="#e3e3e3" />
<rect x="369.62" y="408.08" width="11.81" height="20.60" fill="#2c4a86" />
<rect x="381.43" y="408.08" width="11.81" height="20.60" fill="#e3e3e3" />
<rect x="393.24" y="408.08" width="11.81" height="20.60" fill="#e3e3e3" />
<rect x="405.05" y="408.08" width="11.81" height="20.60" fill="#e3e3e3" />
<rect x="416.86" y="408.08" width="11.81" height="20.60" fill="#e3e3e3" />
<rect x="428.67" y="408.08" width="11.81" height="20.60" fill="#2c4a86" />
<rect x="440.48" y="408.08" width="11.81" height="20.60" fill="#e3e3e3" />
<rect x="452.29" y="408.08" width="11.81" height="20.60" fill="#e3e3e3" />
<rect x="464.10" y="408.08" width="11.81" height="20.60" fill="#e3e3e3" />
<rect x="475.91" y="408.08" width="11.81" height="20.60" fill="#e3e3e3" />
<rect x="487.72" y="408.08" width="11.81" height="20.60" fill="#e3e3e3" />
<rect x="499.53" y="408.08" width="11.81" height="20.60" fill="#e3e3e3" />
<text x="340.20" y="421.28" font-family="Liberation Sans, sans-serif" font-size="9.7" font-style="italic" text-anchor="end"  stroke="#000" stroke-width="0.1">LTB</text>
<rect x="346.00" y="429.91" width="11.81" height="20.60" fill="#e3e3e3" />
<rect x="357.81" y="429.91" width="11.81" height="20.60" fill="#e3e3e3" />
<rect x="369.62" y="429.91" width="11.81" height="20.60" fill="#69ab40" />
<rect x="381.43" y="429.91" width="11.81" height="20.60" fill="#e3e3e3" />
<rect x="393.24" y="429.91" width="11.81" height="20.60" fill="#e3e3e3" />
<rect x="405.05" y="429.91" width="11.81" height="20.60" fill="#e3e3e3" />
<rect x="416.86" y="429.91" width="11.81" height="20.60" fill="#e3e3e3" />
<rect x="428.67" y="429.91" width="11.81" height="20.60" fill="#e3e3e3" />
<rect x="440.48" y="429.91" width="11.81" height="20.60" fill="#e3e3e3" />
<rect x="452.29" y="429.91" width="11.81" height="20.60" fill="#e3e3e3" />
<rect x="464.10" y="429.91" width="11.81" height="20.60" fill="#e3e3e3" />
<rect x="475.91" y="429.91" width="11.81" height="20.60" fill="#e3e3e3" />
<rect x="487.72" y="429.91" width="11.81" height="20.60" fill="#e3e3e3" />
<rect x="499.53" y="429.91" width="11.81" height="20.60" fill="#2c4a86" />
<text x="340.20" y="443.11" font-family="Liberation Sans, sans-serif" font-size="9.7" font-style="italic" text-anchor="end"  stroke="#000" stroke-width="0.1">PIK3CD</text>
<line x1="357.81" y1="58.8" x2="357.81" y2="451.73999999999995" stroke="#fff" stroke-opacity="0.35" stroke-width="0.9"/>
<line x1="369.62" y1="58.8" x2="369.62" y2="451.73999999999995" stroke="#fff" stroke-opacity="0.35" stroke-width="0.9"/>
<line x1="381.43" y1="58.8" x2="381.43" y2="451.73999999999995" stroke="#fff" stroke-opacity="0.35" stroke-width="0.9"/>
<line x1="393.24" y1="58.8" x2="393.24" y2="451.73999999999995" stroke="#fff" stroke-opacity="0.35" stroke-width="0.9"/>
<line x1="405.05" y1="58.8" x2="405.05" y2="451.73999999999995" stroke="#fff" stroke-opacity="0.35" stroke-width="0.9"/>
<line x1="416.86" y1="58.8" x2="416.86" y2="451.73999999999995" stroke="#fff" stroke-opacity="0.35" stroke-width="0.9"/>
<line x1="428.67" y1="58.8" x2="428.67" y2="451.73999999999995" stroke="#fff" stroke-opacity="0.35" stroke-width="0.9"/>
<line x1="440.48" y1="58.8" x2="440.48" y2="451.73999999999995" stroke="#fff" stroke-opacity="0.35" stroke-width="0.9"/>
<line x1="452.29" y1="58.8" x2="452.29" y2="451.73999999999995" stroke="#fff" stroke-opacity="0.35" stroke-width="0.9"/>
<line x1="464.10" y1="58.8" x2="464.10" y2="451.73999999999995" stroke="#fff" stroke-opacity="0.35" stroke-width="0.9"/>
<line x1="475.91" y1="58.8" x2="475.91" y2="451.73999999999995" stroke="#fff" stroke-opacity="0.35" stroke-width="0.9"/>
<line x1="487.72" y1="58.8" x2="487.72" y2="451.73999999999995" stroke="#fff" stroke-opacity="0.35" stroke-width="0.9"/>
<line x1="499.53" y1="58.8" x2="499.53" y2="451.73999999999995" stroke="#fff" stroke-opacity="0.35" stroke-width="0.9"/>
<text transform="translate(347.50,53.7) rotate(90)" font-family="Liberation Sans, sans-serif" font-size="9.7" font-weight="normal" text-anchor="end" fill="#939393" stroke="#939393" stroke-width="0.1">GHE0536<tspan font-size="5.2" dy="-3.6">1</tspan></text>
<text transform="translate(359.31,53.7) rotate(90)" font-family="Liberation Sans, sans-serif" font-size="9.7" font-weight="normal" text-anchor="end" fill="#939393" stroke="#939393" stroke-width="0.1">GHE0645<tspan font-size="5.2" dy="-3.6">1</tspan></text>
<text transform="translate(371.12,53.7) rotate(90)" font-family="Liberation Sans, sans-serif" font-size="9.4" font-weight="bold" text-anchor="end" fill="#000" stroke="#000" stroke-width="0">CH11</text>
<text transform="translate(382.94,53.7) rotate(90)" font-family="Liberation Sans, sans-serif" font-size="9.4" font-weight="bold" text-anchor="end" fill="#000" stroke="#000" stroke-width="0">ESP2</text>
<text transform="translate(394.75,53.7) rotate(90)" font-family="Liberation Sans, sans-serif" font-size="9.7" font-weight="normal" text-anchor="end" fill="#939393" stroke="#939393" stroke-width="0.1">PM−2<tspan font-size="5.2" dy="-3.6">2</tspan></text>
<text transform="translate(406.56,53.7) rotate(90)" font-family="Liberation Sans, sans-serif" font-size="9.7" font-weight="normal" text-anchor="end" fill="#939393" stroke="#939393" stroke-width="0.1">PM−7<tspan font-size="5.2" dy="-3.6">2</tspan></text>
<text transform="translate(418.37,53.7) rotate(90)" font-family="Liberation Sans, sans-serif" font-size="9.4" font-weight="bold" text-anchor="end" fill="#000" stroke="#000" stroke-width="0">ESP17</text>
<text transform="translate(430.18,53.7) rotate(90)" font-family="Liberation Sans, sans-serif" font-size="9.7" font-weight="normal" text-anchor="end" fill="#939393" stroke="#939393" stroke-width="0.1">GHE0609<tspan font-size="5.2" dy="-3.6">1</tspan></text>
<text transform="translate(441.99,53.7) rotate(90)" font-family="Liberation Sans, sans-serif" font-size="9.4" font-weight="bold" text-anchor="end" fill="#000" stroke="#000" stroke-width="0">ESP7</text>
<text transform="translate(453.80,53.7) rotate(90)" font-family="Liberation Sans, sans-serif" font-size="9.7" font-weight="normal" text-anchor="end" fill="#939393" stroke="#939393" stroke-width="0.1">GHE0605<tspan font-size="5.2" dy="-3.6">1</tspan></text>
<text transform="translate(465.61,53.7) rotate(90)" font-family="Liberation Sans, sans-serif" font-size="9.4" font-weight="bold" text-anchor="end" fill="#000" stroke="#000" stroke-width="0">ESP18</text>
<text transform="translate(477.41,53.7) rotate(90)" font-family="Liberation Sans, sans-serif" font-size="9.7" font-weight="normal" text-anchor="end" fill="#939393" stroke="#939393" stroke-width="0.1">GHE0624<tspan font-size="5.2" dy="-3.6">1</tspan></text>
<text transform="translate(489.23,53.7) rotate(90)" font-family="Liberation Sans, sans-serif" font-size="9.4" font-weight="bold" text-anchor="end" fill="#000" stroke="#000" stroke-width="0">ESP13</text>
<text transform="translate(501.03,53.7) rotate(90)" font-family="Liberation Sans, sans-serif" font-size="9.4" font-weight="bold" text-anchor="end" fill="#000" stroke="#000" stroke-width="0">CH10</text>
<text transform="translate(293.20,266.00) rotate(-90)" font-family="Liberation Sans, sans-serif" font-size="12.2" textLength="23" lengthAdjust="spacingAndGlyphs"  stroke="#000" stroke-width="0.25">Gene</text>
<rect x="375.30" y="459.40" width="12.40" height="12.20" fill="#69ab40" />
<text x="391.40" y="468.80" font-family="Liberation Sans, sans-serif" font-size="9.0"  stroke="#000" stroke-width="0.1">Indel</text>
<rect x="424.70" y="459.40" width="12.40" height="12.20" fill="#2c4a86" />
<text x="440.20" y="468.80" font-family="Liberation Sans, sans-serif" font-size="9.0"  stroke="#000" stroke-width="0.1">Missense</text>
<text x="9.40" y="505.20" font-family="Liberation Sans, sans-serif" font-size="13.6" font-weight="bold"  stroke="#000" stroke-width="0.25">D</text>
<defs><linearGradient id="cb" x1="0" x2="1" y1="0" y2="0"><stop offset="0" stop-color="#77b22c"/><stop offset="0.25" stop-color="#42621e"/><stop offset="0.5" stop-color="#0b0b08"/><stop offset="0.75" stop-color="#6a0f10"/><stop offset="1" stop-color="#d80a18"/></linearGradient></defs>
<rect x="51.6" y="495.6" width="425" height="11.3" fill="url(#cb)" stroke="#2a2a22" stroke-width="1"/>
<text x="51.40" y="518.00" font-family="Liberation Sans, sans-serif" font-size="9.6"  stroke="#000" stroke-width="0.1">-2.0</text>
<text x="265.00" y="518.00" font-family="Liberation Sans, sans-serif" font-size="9.6" text-anchor="middle"  stroke="#000" stroke-width="0.1">1:1</text>
<text x="477.20" y="518.00" font-family="Liberation Sans, sans-serif" font-size="9.6" text-anchor="end"  stroke="#000" stroke-width="0.1">2.0</text>
<text transform="translate(62.02,553.8) rotate(-90)" font-family="Liberation Sans, sans-serif" font-size="9.5" fill="#000" stroke="#000" stroke-width="0.1">GT30</text>
<text transform="translate(76.67,553.8) rotate(-90)" font-family="Liberation Sans, sans-serif" font-size="9.5" fill="#000" stroke="#000" stroke-width="0.1">GT14</text>
<text transform="translate(91.32,553.8) rotate(-90)" font-family="Liberation Sans, sans-serif" font-size="9.5" fill="#000" stroke="#000" stroke-width="0.1">GT15</text>
<text transform="translate(105.97,553.8) rotate(-90)" font-family="Liberation Sans, sans-serif" font-size="9.5" fill="#000" stroke="#000" stroke-width="0.1">WU107</text>
<text transform="translate(120.62,553.8) rotate(-90)" font-family="Liberation Sans, sans-serif" font-size="9.5" fill="#000" stroke="#000" stroke-width="0.1">CH120</text>
<text transform="translate(135.27,553.8) rotate(-90)" font-family="Liberation Sans, sans-serif" font-size="9.5" fill="#000" stroke="#000" stroke-width="0.1">CH116</text>
<text transform="translate(149.91,553.8) rotate(-90)" font-family="Liberation Sans, sans-serif" font-size="9.5" fill="#000" stroke="#000" stroke-width="0.1">WU102</text>
<text transform="translate(164.56,553.8) rotate(-90)" font-family="Liberation Sans, sans-serif" font-size="9.5" fill="#000" stroke="#000" stroke-width="0.1">CH121</text>
<text transform="translate(179.21,553.8) rotate(-90)" font-family="Liberation Sans, sans-serif" font-size="9.5" fill="#000" stroke="#000" stroke-width="0.1">GT33</text>
<text transform="translate(193.86,553.8) rotate(-90)" font-family="Liberation Sans, sans-serif" font-size="9.5" fill="#000" stroke="#000" stroke-width="0.1">WU103</text>
<text transform="translate(208.51,553.8) rotate(-90)" font-family="Liberation Sans, sans-serif" font-size="9.5" fill="#000" stroke="#000" stroke-width="0.1">GT11</text>
<text transform="translate(223.16,553.8) rotate(-90)" font-family="Liberation Sans, sans-serif" font-size="9.5" fill="#000" stroke="#000" stroke-width="0.1">GT26</text>
<text transform="translate(237.80,553.8) rotate(-90)" font-family="Liberation Sans, sans-serif" font-size="9.5" fill="#000" stroke="#000" stroke-width="0.1">CH6</text>
<text transform="translate(252.45,553.8) rotate(-90)" font-family="Liberation Sans, sans-serif" font-size="9.5" fill="#000" stroke="#000" stroke-width="0.1">CH5</text>
<text transform="translate(267.10,553.8) rotate(-90)" font-family="Liberation Sans, sans-serif" font-size="9.5" fill="#000" stroke="#000" stroke-width="0.1">ST111</text>
<text transform="translate(281.75,553.8) rotate(-90)" font-family="Liberation Sans, sans-serif" font-size="9.5" fill="#000" stroke="#000" stroke-width="0.1">GT29</text>
<text transform="translate(296.40,553.8) rotate(-90)" font-family="Liberation Sans, sans-serif" font-size="9.5" fill="#000" stroke="#000" stroke-width="0.1">CH2</text>
<text transform="translate(311.04,553.8) rotate(-90)" font-family="Liberation Sans, sans-serif" font-size="9.5" fill="#000" stroke="#000" stroke-width="0.1">GN2</text>
<text transform="translate(325.69,553.8) rotate(-90)" font-family="Liberation Sans, sans-serif" font-size="9.5" fill="#000" stroke="#000" stroke-width="0.1">GN1</text>
<text transform="translate(340.34,553.8) rotate(-90)" font-family="Liberation Sans, sans-serif" font-size="9.5" fill="#000" stroke="#000" stroke-width="0.1">CH115</text>
<text transform="translate(354.99,553.8) rotate(-90)" font-family="Liberation Sans, sans-serif" font-size="9.5" fill="#000" stroke="#000" stroke-width="0.1">ESP4</text>
<text transform="translate(369.64,553.8) rotate(-90)" font-family="Liberation Sans, sans-serif" font-size="9.5" fill="#a82a4c" stroke="#a82a4c" stroke-width="0.1">UU9</text>
<text transform="translate(384.29,553.8) rotate(-90)" font-family="Liberation Sans, sans-serif" font-size="9.5" fill="#a82a4c" stroke="#a82a4c" stroke-width="0.1">ESP2</text>
<text transform="translate(398.93,553.8) rotate(-90)" font-family="Liberation Sans, sans-serif" font-size="9.5" fill="#a82a4c" stroke="#a82a4c" stroke-width="0.1">CH8</text>
<text transform="translate(413.58,553.8) rotate(-90)" font-family="Liberation Sans, sans-serif" font-size="9.5" fill="#a82a4c" stroke="#a82a4c" stroke-width="0.1">RH104</text>
<text transform="translate(428.23,553.8) rotate(-90)" font-family="Liberation Sans, sans-serif" font-size="9.5" fill="#a82a4c" stroke="#a82a4c" stroke-width="0.1">GT36</text>
<text transform="translate(442.88,553.8) rotate(-90)" font-family="Liberation Sans, sans-serif" font-size="9.5" fill="#000" stroke="#000" stroke-width="0.1">ST108</text>
<text transform="translate(457.53,553.8) rotate(-90)" font-family="Liberation Sans, sans-serif" font-size="9.5" fill="#a82a4c" stroke="#a82a4c" stroke-width="0.1">GT35</text>
<text transform="translate(472.18,553.8) rotate(-90)" font-family="Liberation Sans, sans-serif" font-size="9.5" fill="#a82a4c" stroke="#a82a4c" stroke-width="0.1">ESP15</text>
<rect x="51.80" y="595.50" width="14.70" height="7.39" fill="#db1218" />
<rect x="66.45" y="595.50" width="14.70" height="7.39" fill="#9b1317" />
<rect x="81.10" y="595.50" width="14.70" height="7.39" fill="#7dc343" />
<rect x="95.74" y="595.50" width="14.70" height="7.39" fill="#69ac3f" />
<rect x="110.39" y="595.50" width="14.70" height="7.39" fill="#7dc343" />
<rect x="125.04" y="595.50" width="14.70" height="7.39" fill="#73b741" />
<rect x="139.69" y="595.50" width="14.70" height="7.39" fill="#73b741" />
<rect x="154.34" y="595.50" width="14.70" height="7.39" fill="#7dc343" />
<rect x="168.99" y="595.50" width="14.70" height="7.39" fill="#7dc343" />
<rect x="183.63" y="595.50" width="14.70" height="7.39" fill="#7dc343" />
<rect x="198.28" y="595.50" width="14.70" height="7.39" fill="#7dc343" />
<rect x="212.93" y="595.50" width="14.70" height="7.39" fill="#88ce46" />
<rect x="227.58" y="595.50" width="14.70" height="7.39" fill="#244326" />
<rect x="242.23" y="595.50" width="14.70" height="7.39" fill="#e51218" />
<rect x="256.88" y="595.50" width="14.70" height="7.39" fill="#711416" />
<rect x="271.52" y="595.50" width="14.70" height="7.39" fill="#d01218" />
<rect x="286.17" y="595.50" width="14.70" height="7.39" fill="#d01218" />
<rect x="300.82" y="595.50" width="14.70" height="7.39" fill="#1c1614" />
<rect x="315.47" y="595.50" width="14.70" height="7.39" fill="#244326" />
<rect x="330.12" y="595.50" width="14.70" height="7.39" fill="#2d572c" />
<rect x="344.77" y="595.50" width="14.70" height="7.39" fill="#c61317" />
<rect x="359.41" y="595.50" width="14.70" height="7.39" fill="#d01218" />
<rect x="374.06" y="595.50" width="14.70" height="7.39" fill="#d01218" />
<rect x="388.71" y="595.50" width="14.70" height="7.39" fill="#c61317" />
<rect x="403.36" y="595.50" width="14.70" height="7.39" fill="#d01218" />
<rect x="418.01" y="595.50" width="14.70" height="7.39" fill="#db1218" />
<rect x="432.66" y="595.50" width="14.70" height="7.39" fill="#711416" />
<rect x="447.30" y="595.50" width="14.70" height="7.39" fill="#311614" />
<rect x="461.95" y="595.50" width="14.70" height="7.39" fill="#244326" />
<rect x="51.80" y="602.84" width="14.70" height="7.39" fill="#4d8a38" />
<rect x="66.45" y="602.84" width="14.70" height="7.39" fill="#db1218" />
<rect x="81.10" y="602.84" width="14.70" height="7.39" fill="#468036" />
<rect x="95.74" y="602.84" width="14.70" height="7.39" fill="#4d8a38" />
<rect x="110.39" y="602.84" width="14.70" height="7.39" fill="#88ce46" />
<rect x="125.04" y="602.84" width="14.70" height="7.39" fill="#3f7633" />
<rect x="139.69" y="602.84" width="14.70" height="7.39" fill="#386b31" />
<rect x="154.34" y="602.84" width="14.70" height="7.39" fill="#3c1515" />
<rect x="168.99" y="602.84" width="14.70" height="7.39" fill="#7dc343" />
<rect x="183.63" y="602.84" width="14.70" height="7.39" fill="#271614" />
<rect x="198.28" y="602.84" width="14.70" height="7.39" fill="#271614" />
<rect x="212.93" y="602.84" width="14.70" height="7.39" fill="#3f7633" />
<rect x="227.58" y="602.84" width="14.70" height="7.39" fill="#1b241d" />
<rect x="242.23" y="602.84" width="14.70" height="7.39" fill="#244326" />
<rect x="256.88" y="602.84" width="14.70" height="7.39" fill="#711416" />
<rect x="271.52" y="602.84" width="14.70" height="7.39" fill="#711416" />
<rect x="286.17" y="602.84" width="14.70" height="7.39" fill="#271614" />
<rect x="300.82" y="602.84" width="14.70" height="7.39" fill="#191a19" />
<rect x="315.47" y="602.84" width="14.70" height="7.39" fill="#468036" />
<rect x="330.12" y="602.84" width="14.70" height="7.39" fill="#311614" />
<rect x="344.77" y="602.84" width="14.70" height="7.39" fill="#7b1416" />
<rect x="359.41" y="602.84" width="14.70" height="7.39" fill="#a61317" />
<rect x="374.06" y="602.84" width="14.70" height="7.39" fill="#1c1614" />
<rect x="388.71" y="602.84" width="14.70" height="7.39" fill="#661515" />
<rect x="403.36" y="602.84" width="14.70" height="7.39" fill="#db1218" />
<rect x="418.01" y="602.84" width="14.70" height="7.39" fill="#311614" />
<rect x="432.66" y="602.84" width="14.70" height="7.39" fill="#461515" />
<rect x="447.30" y="602.84" width="14.70" height="7.39" fill="#3c1515" />
<rect x="461.95" y="602.84" width="14.70" height="7.39" fill="#1b241d" />
<rect x="51.80" y="610.18" width="14.70" height="7.39" fill="#1d2f20" />
<rect x="66.45" y="610.18" width="14.70" height="7.39" fill="#7b1416" />
<rect x="81.10" y="610.18" width="14.70" height="7.39" fill="#511515" />
<rect x="95.74" y="610.18" width="14.70" height="7.39" fill="#33612e" />
<rect x="110.39" y="610.18" width="14.70" height="7.39" fill="#1b241d" />
<rect x="125.04" y="610.18" width="14.70" height="7.39" fill="#861416" />
<rect x="139.69" y="610.18" width="14.70" height="7.39" fill="#1d2f20" />
<rect x="154.34" y="610.18" width="14.70" height="7.39" fill="#203924" />
<rect x="168.99" y="610.18" width="14.70" height="7.39" fill="#311614" />
<rect x="183.63" y="610.18" width="14.70" height="7.39" fill="#461515" />
<rect x="198.28" y="610.18" width="14.70" height="7.39" fill="#5c1515" />
<rect x="212.93" y="610.18" width="14.70" height="7.39" fill="#461515" />
<rect x="227.58" y="610.18" width="14.70" height="7.39" fill="#2d572c" />
<rect x="242.23" y="610.18" width="14.70" height="7.39" fill="#271614" />
<rect x="256.88" y="610.18" width="14.70" height="7.39" fill="#1d2f20" />
<rect x="271.52" y="610.18" width="14.70" height="7.39" fill="#271614" />
<rect x="286.17" y="610.18" width="14.70" height="7.39" fill="#244326" />
<rect x="300.82" y="610.18" width="14.70" height="7.39" fill="#1c1614" />
<rect x="315.47" y="610.18" width="14.70" height="7.39" fill="#271614" />
<rect x="330.12" y="610.18" width="14.70" height="7.39" fill="#1d2f20" />
<rect x="344.77" y="610.18" width="14.70" height="7.39" fill="#861416" />
<rect x="359.41" y="610.18" width="14.70" height="7.39" fill="#711416" />
<rect x="374.06" y="610.18" width="14.70" height="7.39" fill="#9b1317" />
<rect x="388.71" y="610.18" width="14.70" height="7.39" fill="#711416" />
<rect x="403.36" y="610.18" width="14.70" height="7.39" fill="#3c1515" />
<rect x="418.01" y="610.18" width="14.70" height="7.39" fill="#5c1515" />
<rect x="432.66" y="610.18" width="14.70" height="7.39" fill="#1c1614" />
<rect x="447.30" y="610.18" width="14.70" height="7.39" fill="#1c1614" />
<rect x="461.95" y="610.18" width="14.70" height="7.39" fill="#1b241d" />
<rect x="51.80" y="617.52" width="14.70" height="7.39" fill="#55943a" />
<rect x="66.45" y="617.52" width="14.70" height="7.39" fill="#7b1416" />
<rect x="81.10" y="617.52" width="14.70" height="7.39" fill="#244326" />
<rect x="95.74" y="617.52" width="14.70" height="7.39" fill="#203924" />
<rect x="110.39" y="617.52" width="14.70" height="7.39" fill="#1d2f20" />
<rect x="125.04" y="617.52" width="14.70" height="7.39" fill="#1d2f20" />
<rect x="139.69" y="617.52" width="14.70" height="7.39" fill="#1d2f20" />
<rect x="154.34" y="617.52" width="14.70" height="7.39" fill="#244326" />
<rect x="168.99" y="617.52" width="14.70" height="7.39" fill="#271614" />
<rect x="183.63" y="617.52" width="14.70" height="7.39" fill="#311614" />
<rect x="198.28" y="617.52" width="14.70" height="7.39" fill="#3c1515" />
<rect x="212.93" y="617.52" width="14.70" height="7.39" fill="#461515" />
<rect x="227.58" y="617.52" width="14.70" height="7.39" fill="#271614" />
<rect x="242.23" y="617.52" width="14.70" height="7.39" fill="#4d8a38" />
<rect x="256.88" y="617.52" width="14.70" height="7.39" fill="#271614" />
<rect x="271.52" y="617.52" width="14.70" height="7.39" fill="#461515" />
<rect x="286.17" y="617.52" width="14.70" height="7.39" fill="#1b241d" />
<rect x="300.82" y="617.52" width="14.70" height="7.39" fill="#1b241d" />
<rect x="315.47" y="617.52" width="14.70" height="7.39" fill="#311614" />
<rect x="330.12" y="617.52" width="14.70" height="7.39" fill="#311614" />
<rect x="344.77" y="617.52" width="14.70" height="7.39" fill="#5c1515" />
<rect x="359.41" y="617.52" width="14.70" height="7.39" fill="#711416" />
<rect x="374.06" y="617.52" width="14.70" height="7.39" fill="#5c1515" />
<rect x="388.71" y="617.52" width="14.70" height="7.39" fill="#3c1515" />
<rect x="403.36" y="617.52" width="14.70" height="7.39" fill="#3c1515" />
<rect x="418.01" y="617.52" width="14.70" height="7.39" fill="#511515" />
<rect x="432.66" y="617.52" width="14.70" height="7.39" fill="#711416" />
<rect x="447.30" y="617.52" width="14.70" height="7.39" fill="#7b1416" />
<rect x="461.95" y="617.52" width="14.70" height="7.39" fill="#1c1614" />
<rect x="51.80" y="624.86" width="14.70" height="7.39" fill="#7dc343" />
<rect x="66.45" y="624.86" width="14.70" height="7.39" fill="#711416" />
<rect x="81.10" y="624.86" width="14.70" height="7.39" fill="#271614" />
<rect x="95.74" y="624.86" width="14.70" height="7.39" fill="#96d748" />
<rect x="110.39" y="624.86" width="14.70" height="7.39" fill="#203924" />
<rect x="125.04" y="624.86" width="14.70" height="7.39" fill="#1b241d" />
<rect x="139.69" y="624.86" width="14.70" height="7.39" fill="#1c1614" />
<rect x="154.34" y="624.86" width="14.70" height="7.39" fill="#69ac3f" />
<rect x="168.99" y="624.86" width="14.70" height="7.39" fill="#271614" />
<rect x="183.63" y="624.86" width="14.70" height="7.39" fill="#311614" />
<rect x="198.28" y="624.86" width="14.70" height="7.39" fill="#511515" />
<rect x="212.93" y="624.86" width="14.70" height="7.39" fill="#1b241d" />
<rect x="227.58" y="624.86" width="14.70" height="7.39" fill="#244326" />
<rect x="242.23" y="624.86" width="14.70" height="7.39" fill="#284d29" />
<rect x="256.88" y="624.86" width="14.70" height="7.39" fill="#3c1515" />
<rect x="271.52" y="624.86" width="14.70" height="7.39" fill="#3c1515" />
<rect x="286.17" y="624.86" width="14.70" height="7.39" fill="#3f7633" />
<rect x="300.82" y="624.86" width="14.70" height="7.39" fill="#1b241d" />
<rect x="315.47" y="624.86" width="14.70" height="7.39" fill="#33612e" />
<rect x="330.12" y="624.86" width="14.70" height="7.39" fill="#3c1515" />
<rect x="344.77" y="624.86" width="14.70" height="7.39" fill="#461515" />
<rect x="359.41" y="624.86" width="14.70" height="7.39" fill="#7b1416" />
<rect x="374.06" y="624.86" width="14.70" height="7.39" fill="#911416" />
<rect x="388.71" y="624.86" width="14.70" height="7.39" fill="#a61317" />
<rect x="403.36" y="624.86" width="14.70" height="7.39" fill="#511515" />
<rect x="418.01" y="624.86" width="14.70" height="7.39" fill="#461515" />
<rect x="432.66" y="624.86" width="14.70" height="7.39" fill="#1b241d" />
<rect x="447.30" y="624.86" width="14.70" height="7.39" fill="#9b1317" />
<rect x="461.95" y="624.86" width="14.70" height="7.39" fill="#1d2f20" />
<rect x="51.80" y="632.20" width="14.70" height="7.39" fill="#c61317" />
<rect x="66.45" y="632.20" width="14.70" height="7.39" fill="#311614" />
<rect x="81.10" y="632.20" width="14.70" height="7.39" fill="#461515" />
<rect x="95.74" y="632.20" width="14.70" height="7.39" fill="#461515" />
<rect x="110.39" y="632.20" width="14.70" height="7.39" fill="#3c1515" />
<rect x="125.04" y="632.20" width="14.70" height="7.39" fill="#311614" />
<rect x="139.69" y="632.20" width="14.70" height="7.39" fill="#386b31" />
<rect x="154.34" y="632.20" width="14.70" height="7.39" fill="#1c1614" />
<rect x="168.99" y="632.20" width="14.70" height="7.39" fill="#911416" />
<rect x="183.63" y="632.20" width="14.70" height="7.39" fill="#203924" />
<rect x="198.28" y="632.20" width="14.70" height="7.39" fill="#311614" />
<rect x="212.93" y="632.20" width="14.70" height="7.39" fill="#244326" />
<rect x="227.58" y="632.20" width="14.70" height="7.39" fill="#88ce46" />
<rect x="242.23" y="632.20" width="14.70" height="7.39" fill="#3c1515" />
<rect x="256.88" y="632.20" width="14.70" height="7.39" fill="#511515" />
<rect x="271.52" y="632.20" width="14.70" height="7.39" fill="#1c1614" />
<rect x="286.17" y="632.20" width="14.70" height="7.39" fill="#461515" />
<rect x="300.82" y="632.20" width="14.70" height="7.39" fill="#c61317" />
<rect x="315.47" y="632.20" width="14.70" height="7.39" fill="#203924" />
<rect x="330.12" y="632.20" width="14.70" height="7.39" fill="#244326" />
<rect x="344.77" y="632.20" width="14.70" height="7.39" fill="#88ce46" />
<rect x="359.41" y="632.20" width="14.70" height="7.39" fill="#88ce46" />
<rect x="374.06" y="632.20" width="14.70" height="7.39" fill="#1b241d" />
<rect x="388.71" y="632.20" width="14.70" height="7.39" fill="#7dc343" />
<rect x="403.36" y="632.20" width="14.70" height="7.39" fill="#7dc343" />
<rect x="418.01" y="632.20" width="14.70" height="7.39" fill="#271614" />
<rect x="432.66" y="632.20" width="14.70" height="7.39" fill="#1b241d" />
<rect x="447.30" y="632.20" width="14.70" height="7.39" fill="#33612e" />
<rect x="461.95" y="632.20" width="14.70" height="7.39" fill="#271614" />
<rect x="51.80" y="639.54" width="14.70" height="7.39" fill="#7b1416" />
<rect x="66.45" y="639.54" width="14.70" height="7.39" fill="#e51218" />
<rect x="81.10" y="639.54" width="14.70" height="7.39" fill="#861416" />
<rect x="95.74" y="639.54" width="14.70" height="7.39" fill="#511515" />
<rect x="110.39" y="639.54" width="14.70" height="7.39" fill="#3c1515" />
<rect x="125.04" y="639.54" width="14.70" height="7.39" fill="#55943a" />
<rect x="139.69" y="639.54" width="14.70" height="7.39" fill="#711416" />
<rect x="154.34" y="639.54" width="14.70" height="7.39" fill="#861416" />
<rect x="168.99" y="639.54" width="14.70" height="7.39" fill="#1c1614" />
<rect x="183.63" y="639.54" width="14.70" height="7.39" fill="#203924" />
<rect x="198.28" y="639.54" width="14.70" height="7.39" fill="#244326" />
<rect x="212.93" y="639.54" width="14.70" height="7.39" fill="#33612e" />
<rect x="227.58" y="639.54" width="14.70" height="7.39" fill="#9b1317" />
<rect x="242.23" y="639.54" width="14.70" height="7.39" fill="#861416" />
<rect x="256.88" y="639.54" width="14.70" height="7.39" fill="#284d29" />
<rect x="271.52" y="639.54" width="14.70" height="7.39" fill="#33612e" />
<rect x="286.17" y="639.54" width="14.70" height="7.39" fill="#271614" />
<rect x="300.82" y="639.54" width="14.70" height="7.39" fill="#1b241d" />
<rect x="315.47" y="639.54" width="14.70" height="7.39" fill="#3c1515" />
<rect x="330.12" y="639.54" width="14.70" height="7.39" fill="#311614" />
<rect x="344.77" y="639.54" width="14.70" height="7.39" fill="#94d748" />
<rect x="359.41" y="639.54" width="14.70" height="7.39" fill="#7dc343" />
<rect x="374.06" y="639.54" width="14.70" height="7.39" fill="#33612e" />
<rect x="388.71" y="639.54" width="14.70" height="7.39" fill="#3f7633" />
<rect x="403.36" y="639.54" width="14.70" height="7.39" fill="#3c1515" />
<rect x="418.01" y="639.54" width="14.70" height="7.39" fill="#2d572c" />
<rect x="432.66" y="639.54" width="14.70" height="7.39" fill="#3f7633" />
<rect x="447.30" y="639.54" width="14.70" height="7.39" fill="#33612e" />
<rect x="461.95" y="639.54" width="14.70" height="7.39" fill="#271614" />
<rect x="51.80" y="646.88" width="14.70" height="7.39" fill="#bb1317" />
<rect x="66.45" y="646.88" width="14.70" height="7.39" fill="#191a19" />
<rect x="81.10" y="646.88" width="14.70" height="7.39" fill="#3f7633" />
<rect x="95.74" y="646.88" width="14.70" height="7.39" fill="#461515" />
<rect x="110.39" y="646.88" width="14.70" height="7.39" fill="#3c1515" />
<rect x="125.04" y="646.88" width="14.70" height="7.39" fill="#311614" />
<rect x="139.69" y="646.88" width="14.70" height="7.39" fill="#861416" />
<rect x="154.34" y="646.88" width="14.70" height="7.39" fill="#461515" />
<rect x="168.99" y="646.88" width="14.70" height="7.39" fill="#db1218" />
<rect x="183.63" y="646.88" width="14.70" height="7.39" fill="#bb1317" />
<rect x="198.28" y="646.88" width="14.70" height="7.39" fill="#191a19" />
<rect x="212.93" y="646.88" width="14.70" height="7.39" fill="#1b241d" />
<rect x="227.58" y="646.88" width="14.70" height="7.39" fill="#311614" />
<rect x="242.23" y="646.88" width="14.70" height="7.39" fill="#3c1515" />
<rect x="256.88" y="646.88" width="14.70" height="7.39" fill="#1d2f20" />
<rect x="271.52" y="646.88" width="14.70" height="7.39" fill="#1d2f20" />
<rect x="286.17" y="646.88" width="14.70" height="7.39" fill="#3c1515" />
<rect x="300.82" y="646.88" width="14.70" height="7.39" fill="#271614" />
<rect x="315.47" y="646.88" width="14.70" height="7.39" fill="#311614" />
<rect x="330.12" y="646.88" width="14.70" height="7.39" fill="#3c1515" />
<rect x="344.77" y="646.88" width="14.70" height="7.39" fill="#271614" />
<rect x="359.41" y="646.88" width="14.70" height="7.39" fill="#69ac3f" />
<rect x="374.06" y="646.88" width="14.70" height="7.39" fill="#244326" />
<rect x="388.71" y="646.88" width="14.70" height="7.39" fill="#5c1515" />
<rect x="403.36" y="646.88" width="14.70" height="7.39" fill="#7dc343" />
<rect x="418.01" y="646.88" width="14.70" height="7.39" fill="#3f7633" />
<rect x="432.66" y="646.88" width="14.70" height="7.39" fill="#1c1614" />
<rect x="447.30" y="646.88" width="14.70" height="7.39" fill="#271614" />
<rect x="461.95" y="646.88" width="14.70" height="7.39" fill="#1b241d" />
<rect x="51.80" y="654.22" width="14.70" height="7.39" fill="#bb1317" />
<rect x="66.45" y="654.22" width="14.70" height="7.39" fill="#911416" />
<rect x="81.10" y="654.22" width="14.70" height="7.39" fill="#661515" />
<rect x="95.74" y="654.22" width="14.70" height="7.39" fill="#1b241d" />
<rect x="110.39" y="654.22" width="14.70" height="7.39" fill="#1c1614" />
<rect x="125.04" y="654.22" width="14.70" height="7.39" fill="#3c1515" />
<rect x="139.69" y="654.22" width="14.70" height="7.39" fill="#3c1515" />
<rect x="154.34" y="654.22" width="14.70" height="7.39" fill="#1b241d" />
<rect x="168.99" y="654.22" width="14.70" height="7.39" fill="#284d29" />
<rect x="183.63" y="654.22" width="14.70" height="7.39" fill="#311614" />
<rect x="198.28" y="654.22" width="14.70" height="7.39" fill="#55943a" />
<rect x="212.93" y="654.22" width="14.70" height="7.39" fill="#33612e" />
<rect x="227.58" y="654.22" width="14.70" height="7.39" fill="#1b241d" />
<rect x="242.23" y="654.22" width="14.70" height="7.39" fill="#311614" />
<rect x="256.88" y="654.22" width="14.70" height="7.39" fill="#244326" />
<rect x="271.52" y="654.22" width="14.70" height="7.39" fill="#7b1416" />
<rect x="286.17" y="654.22" width="14.70" height="7.39" fill="#661515" />
<rect x="300.82" y="654.22" width="14.70" height="7.39" fill="#271614" />
<rect x="315.47" y="654.22" width="14.70" height="7.39" fill="#661515" />
<rect x="330.12" y="654.22" width="14.70" height="7.39" fill="#7b1416" />
<rect x="344.77" y="654.22" width="14.70" height="7.39" fill="#55943a" />
<rect x="359.41" y="654.22" width="14.70" height="7.39" fill="#191a19" />
<rect x="374.06" y="654.22" width="14.70" height="7.39" fill="#311614" />
<rect x="388.71" y="654.22" width="14.70" height="7.39" fill="#3f7633" />
<rect x="403.36" y="654.22" width="14.70" height="7.39" fill="#7dc343" />
<rect x="418.01" y="654.22" width="14.70" height="7.39" fill="#3f7633" />
<rect x="432.66" y="654.22" width="14.70" height="7.39" fill="#244326" />
<rect x="447.30" y="654.22" width="14.70" height="7.39" fill="#191a19" />
<rect x="461.95" y="654.22" width="14.70" height="7.39" fill="#69ac3f" />
<rect x="51.80" y="661.56" width="14.70" height="7.39" fill="#d01218" />
<rect x="66.45" y="661.56" width="14.70" height="7.39" fill="#661515" />
<rect x="81.10" y="661.56" width="14.70" height="7.39" fill="#861416" />
<rect x="95.74" y="661.56" width="14.70" height="7.39" fill="#461515" />
<rect x="110.39" y="661.56" width="14.70" height="7.39" fill="#511515" />
<rect x="125.04" y="661.56" width="14.70" height="7.39" fill="#d01218" />
<rect x="139.69" y="661.56" width="14.70" height="7.39" fill="#3f7633" />
<rect x="154.34" y="661.56" width="14.70" height="7.39" fill="#1b241d" />
<rect x="168.99" y="661.56" width="14.70" height="7.39" fill="#311614" />
<rect x="183.63" y="661.56" width="14.70" height="7.39" fill="#271614" />
<rect x="198.28" y="661.56" width="14.70" height="7.39" fill="#203924" />
<rect x="212.93" y="661.56" width="14.70" height="7.39" fill="#73b741" />
<rect x="227.58" y="661.56" width="14.70" height="7.39" fill="#271614" />
<rect x="242.23" y="661.56" width="14.70" height="7.39" fill="#9b1317" />
<rect x="256.88" y="661.56" width="14.70" height="7.39" fill="#3c1515" />
<rect x="271.52" y="661.56" width="14.70" height="7.39" fill="#1c1614" />
<rect x="286.17" y="661.56" width="14.70" height="7.39" fill="#311614" />
<rect x="300.82" y="661.56" width="14.70" height="7.39" fill="#7b1416" />
<rect x="315.47" y="661.56" width="14.70" height="7.39" fill="#311614" />
<rect x="330.12" y="661.56" width="14.70" height="7.39" fill="#461515" />
<rect x="344.77" y="661.56" width="14.70" height="7.39" fill="#468036" />
<rect x="359.41" y="661.56" width="14.70" height="7.39" fill="#244326" />
<rect x="374.06" y="661.56" width="14.70" height="7.39" fill="#311614" />
<rect x="388.71" y="661.56" width="14.70" height="7.39" fill="#3c1515" />
<rect x="403.36" y="661.56" width="14.70" height="7.39" fill="#386b31" />
<rect x="418.01" y="661.56" width="14.70" height="7.39" fill="#33612e" />
<rect x="432.66" y="661.56" width="14.70" height="7.39" fill="#1b241d" />
<rect x="447.30" y="661.56" width="14.70" height="7.39" fill="#1c1614" />
<rect x="461.95" y="661.56" width="14.70" height="7.39" fill="#244326" />
<rect x="51.80" y="668.90" width="14.70" height="7.39" fill="#d01218" />
<rect x="66.45" y="668.90" width="14.70" height="7.39" fill="#386b31" />
<rect x="81.10" y="668.90" width="14.70" height="7.39" fill="#511515" />
<rect x="95.74" y="668.90" width="14.70" height="7.39" fill="#661515" />
<rect x="110.39" y="668.90" width="14.70" height="7.39" fill="#1b241d" />
<rect x="125.04" y="668.90" width="14.70" height="7.39" fill="#311614" />
<rect x="139.69" y="668.90" width="14.70" height="7.39" fill="#3c1515" />
<rect x="154.34" y="668.90" width="14.70" height="7.39" fill="#9b1317" />
<rect x="168.99" y="668.90" width="14.70" height="7.39" fill="#271614" />
<rect x="183.63" y="668.90" width="14.70" height="7.39" fill="#3c1515" />
<rect x="198.28" y="668.90" width="14.70" height="7.39" fill="#203924" />
<rect x="212.93" y="668.90" width="14.70" height="7.39" fill="#271614" />
<rect x="227.58" y="668.90" width="14.70" height="7.39" fill="#511515" />
<rect x="242.23" y="668.90" width="14.70" height="7.39" fill="#661515" />
<rect x="256.88" y="668.90" width="14.70" height="7.39" fill="#271614" />
<rect x="271.52" y="668.90" width="14.70" height="7.39" fill="#191a19" />
<rect x="286.17" y="668.90" width="14.70" height="7.39" fill="#1c1614" />
<rect x="300.82" y="668.90" width="14.70" height="7.39" fill="#311614" />
<rect x="315.47" y="668.90" width="14.70" height="7.39" fill="#c61317" />
<rect x="330.12" y="668.90" width="14.70" height="7.39" fill="#e51218" />
<rect x="344.77" y="668.90" width="14.70" height="7.39" fill="#203924" />
<rect x="359.41" y="668.90" width="14.70" height="7.39" fill="#1b241d" />
<rect x="374.06" y="668.90" width="14.70" height="7.39" fill="#284d29" />
<rect x="388.71" y="668.90" width="14.70" height="7.39" fill="#7dc343" />
<rect x="403.36" y="668.90" width="14.70" height="7.39" fill="#271614" />
<rect x="418.01" y="668.90" width="14.70" height="7.39" fill="#311614" />
<rect x="432.66" y="668.90" width="14.70" height="7.39" fill="#1d2f20" />
<rect x="447.30" y="668.90" width="14.70" height="7.39" fill="#1b241d" />
<rect x="461.95" y="668.90" width="14.70" height="7.39" fill="#1b241d" />
<rect x="51.80" y="676.24" width="14.70" height="7.39" fill="#c61317" />
<rect x="66.45" y="676.24" width="14.70" height="7.39" fill="#386b31" />
<rect x="81.10" y="676.24" width="14.70" height="7.39" fill="#c61317" />
<rect x="95.74" y="676.24" width="14.70" height="7.39" fill="#1b241d" />
<rect x="110.39" y="676.24" width="14.70" height="7.39" fill="#1b241d" />
<rect x="125.04" y="676.24" width="14.70" height="7.39" fill="#1d2f20" />
<rect x="139.69" y="676.24" width="14.70" height="7.39" fill="#711416" />
<rect x="154.34" y="676.24" width="14.70" height="7.39" fill="#461515" />
<rect x="168.99" y="676.24" width="14.70" height="7.39" fill="#271614" />
<rect x="183.63" y="676.24" width="14.70" height="7.39" fill="#461515" />
<rect x="198.28" y="676.24" width="14.70" height="7.39" fill="#271614" />
<rect x="212.93" y="676.24" width="14.70" height="7.39" fill="#3c1515" />
<rect x="227.58" y="676.24" width="14.70" height="7.39" fill="#271614" />
<rect x="242.23" y="676.24" width="14.70" height="7.39" fill="#661515" />
<rect x="256.88" y="676.24" width="14.70" height="7.39" fill="#1c1614" />
<rect x="271.52" y="676.24" width="14.70" height="7.39" fill="#311614" />
<rect x="286.17" y="676.24" width="14.70" height="7.39" fill="#1d2f20" />
<rect x="300.82" y="676.24" width="14.70" height="7.39" fill="#311614" />
<rect x="315.47" y="676.24" width="14.70" height="7.39" fill="#511515" />
<rect x="330.12" y="676.24" width="14.70" height="7.39" fill="#311614" />
<rect x="344.77" y="676.24" width="14.70" height="7.39" fill="#386b31" />
<rect x="359.41" y="676.24" width="14.70" height="7.39" fill="#386b31" />
<rect x="374.06" y="676.24" width="14.70" height="7.39" fill="#461515" />
<rect x="388.71" y="676.24" width="14.70" height="7.39" fill="#7dc343" />
<rect x="403.36" y="676.24" width="14.70" height="7.39" fill="#1b241d" />
<rect x="418.01" y="676.24" width="14.70" height="7.39" fill="#386b31" />
<rect x="432.66" y="676.24" width="14.70" height="7.39" fill="#3f7633" />
<rect x="447.30" y="676.24" width="14.70" height="7.39" fill="#311614" />
<rect x="461.95" y="676.24" width="14.70" height="7.39" fill="#33612e" />
<rect x="51.80" y="683.58" width="14.70" height="7.39" fill="#c61317" />
<rect x="66.45" y="683.58" width="14.70" height="7.39" fill="#386b31" />
<rect x="81.10" y="683.58" width="14.70" height="7.39" fill="#511515" />
<rect x="95.74" y="683.58" width="14.70" height="7.39" fill="#1c1614" />
<rect x="110.39" y="683.58" width="14.70" height="7.39" fill="#311614" />
<rect x="125.04" y="683.58" width="14.70" height="7.39" fill="#1d2f20" />
<rect x="139.69" y="683.58" width="14.70" height="7.39" fill="#5c1515" />
<rect x="154.34" y="683.58" width="14.70" height="7.39" fill="#661515" />
<rect x="168.99" y="683.58" width="14.70" height="7.39" fill="#311614" />
<rect x="183.63" y="683.58" width="14.70" height="7.39" fill="#c61317" />
<rect x="198.28" y="683.58" width="14.70" height="7.39" fill="#311614" />
<rect x="212.93" y="683.58" width="14.70" height="7.39" fill="#311614" />
<rect x="227.58" y="683.58" width="14.70" height="7.39" fill="#d01218" />
<rect x="242.23" y="683.58" width="14.70" height="7.39" fill="#711416" />
<rect x="256.88" y="683.58" width="14.70" height="7.39" fill="#271614" />
<rect x="271.52" y="683.58" width="14.70" height="7.39" fill="#311614" />
<rect x="286.17" y="683.58" width="14.70" height="7.39" fill="#1d2f20" />
<rect x="300.82" y="683.58" width="14.70" height="7.39" fill="#1b241d" />
<rect x="315.47" y="683.58" width="14.70" height="7.39" fill="#511515" />
<rect x="330.12" y="683.58" width="14.70" height="7.39" fill="#311614" />
<rect x="344.77" y="683.58" width="14.70" height="7.39" fill="#33612e" />
<rect x="359.41" y="683.58" width="14.70" height="7.39" fill="#386b31" />
<rect x="374.06" y="683.58" width="14.70" height="7.39" fill="#271614" />
<rect x="388.71" y="683.58" width="14.70" height="7.39" fill="#271614" />
<rect x="403.36" y="683.58" width="14.70" height="7.39" fill="#203924" />
<rect x="418.01" y="683.58" width="14.70" height="7.39" fill="#244326" />
<rect x="432.66" y="683.58" width="14.70" height="7.39" fill="#3f7633" />
<rect x="447.30" y="683.58" width="14.70" height="7.39" fill="#1b241d" />
<rect x="461.95" y="683.58" width="14.70" height="7.39" fill="#1d2f20" />
<rect x="51.80" y="690.92" width="14.70" height="7.39" fill="#c61317" />
<rect x="66.45" y="690.92" width="14.70" height="7.39" fill="#284d29" />
<rect x="81.10" y="690.92" width="14.70" height="7.39" fill="#5c1515" />
<rect x="95.74" y="690.92" width="14.70" height="7.39" fill="#271614" />
<rect x="110.39" y="690.92" width="14.70" height="7.39" fill="#1b241d" />
<rect x="125.04" y="690.92" width="14.70" height="7.39" fill="#3f7633" />
<rect x="139.69" y="690.92" width="14.70" height="7.39" fill="#311614" />
<rect x="154.34" y="690.92" width="14.70" height="7.39" fill="#7b1416" />
<rect x="168.99" y="690.92" width="14.70" height="7.39" fill="#311614" />
<rect x="183.63" y="690.92" width="14.70" height="7.39" fill="#271614" />
<rect x="198.28" y="690.92" width="14.70" height="7.39" fill="#311614" />
<rect x="212.93" y="690.92" width="14.70" height="7.39" fill="#271614" />
<rect x="227.58" y="690.92" width="14.70" height="7.39" fill="#511515" />
<rect x="242.23" y="690.92" width="14.70" height="7.39" fill="#661515" />
<rect x="256.88" y="690.92" width="14.70" height="7.39" fill="#271614" />
<rect x="271.52" y="690.92" width="14.70" height="7.39" fill="#1c1614" />
<rect x="286.17" y="690.92" width="14.70" height="7.39" fill="#2d572c" />
<rect x="300.82" y="690.92" width="14.70" height="7.39" fill="#191a19" />
<rect x="315.47" y="690.92" width="14.70" height="7.39" fill="#9b1317" />
<rect x="330.12" y="690.92" width="14.70" height="7.39" fill="#311614" />
<rect x="344.77" y="690.92" width="14.70" height="7.39" fill="#284d29" />
<rect x="359.41" y="690.92" width="14.70" height="7.39" fill="#203924" />
<rect x="374.06" y="690.92" width="14.70" height="7.39" fill="#69ac3f" />
<rect x="388.71" y="690.92" width="14.70" height="7.39" fill="#3f7633" />
<rect x="403.36" y="690.92" width="14.70" height="7.39" fill="#33612e" />
<rect x="418.01" y="690.92" width="14.70" height="7.39" fill="#311614" />
<rect x="432.66" y="690.92" width="14.70" height="7.39" fill="#271614" />
<rect x="447.30" y="690.92" width="14.70" height="7.39" fill="#1b241d" />
<rect x="461.95" y="690.92" width="14.70" height="7.39" fill="#1b241d" />
<rect x="51.80" y="698.26" width="14.70" height="7.39" fill="#511515" />
<rect x="66.45" y="698.26" width="14.70" height="7.39" fill="#244326" />
<rect x="81.10" y="698.26" width="14.70" height="7.39" fill="#511515" />
<rect x="95.74" y="698.26" width="14.70" height="7.39" fill="#271614" />
<rect x="110.39" y="698.26" width="14.70" height="7.39" fill="#271614" />
<rect x="125.04" y="698.26" width="14.70" height="7.39" fill="#2d572c" />
<rect x="139.69" y="698.26" width="14.70" height="7.39" fill="#3c1515" />
<rect x="154.34" y="698.26" width="14.70" height="7.39" fill="#461515" />
<rect x="168.99" y="698.26" width="14.70" height="7.39" fill="#3c1515" />
<rect x="183.63" y="698.26" width="14.70" height="7.39" fill="#311614" />
<rect x="198.28" y="698.26" width="14.70" height="7.39" fill="#271614" />
<rect x="212.93" y="698.26" width="14.70" height="7.39" fill="#271614" />
<rect x="227.58" y="698.26" width="14.70" height="7.39" fill="#1c1614" />
<rect x="242.23" y="698.26" width="14.70" height="7.39" fill="#3c1515" />
<rect x="256.88" y="698.26" width="14.70" height="7.39" fill="#271614" />
<rect x="271.52" y="698.26" width="14.70" height="7.39" fill="#1c1614" />
<rect x="286.17" y="698.26" width="14.70" height="7.39" fill="#311614" />
<rect x="300.82" y="698.26" width="14.70" height="7.39" fill="#311614" />
<rect x="315.47" y="698.26" width="14.70" height="7.39" fill="#311614" />
<rect x="330.12" y="698.26" width="14.70" height="7.39" fill="#311614" />
<rect x="344.77" y="698.26" width="14.70" height="7.39" fill="#1d2f20" />
<rect x="359.41" y="698.26" width="14.70" height="7.39" fill="#33612e" />
<rect x="374.06" y="698.26" width="14.70" height="7.39" fill="#2d572c" />
<rect x="388.71" y="698.26" width="14.70" height="7.39" fill="#244326" />
<rect x="403.36" y="698.26" width="14.70" height="7.39" fill="#203924" />
<rect x="418.01" y="698.26" width="14.70" height="7.39" fill="#311614" />
<rect x="432.66" y="698.26" width="14.70" height="7.39" fill="#1c1614" />
<rect x="447.30" y="698.26" width="14.70" height="7.39" fill="#1d2f20" />
<rect x="461.95" y="698.26" width="14.70" height="7.39" fill="#271614" />
<rect x="51.80" y="705.60" width="14.70" height="7.39" fill="#191a19" />
<rect x="66.45" y="705.60" width="14.70" height="7.39" fill="#284d29" />
<rect x="81.10" y="705.60" width="14.70" height="7.39" fill="#461515" />
<rect x="95.74" y="705.60" width="14.70" height="7.39" fill="#203924" />
<rect x="110.39" y="705.60" width="14.70" height="7.39" fill="#191a19" />
<rect x="125.04" y="705.60" width="14.70" height="7.39" fill="#284d29" />
<rect x="139.69" y="705.60" width="14.70" height="7.39" fill="#1c1614" />
<rect x="154.34" y="705.60" width="14.70" height="7.39" fill="#3c1515" />
<rect x="168.99" y="705.60" width="14.70" height="7.39" fill="#311614" />
<rect x="183.63" y="705.60" width="14.70" height="7.39" fill="#311614" />
<rect x="198.28" y="705.60" width="14.70" height="7.39" fill="#661515" />
<rect x="212.93" y="705.60" width="14.70" height="7.39" fill="#5c1515" />
<rect x="227.58" y="705.60" width="14.70" height="7.39" fill="#3f7633" />
<rect x="242.23" y="705.60" width="14.70" height="7.39" fill="#3c1515" />
<rect x="256.88" y="705.60" width="14.70" height="7.39" fill="#271614" />
<rect x="271.52" y="705.60" width="14.70" height="7.39" fill="#1b241d" />
<rect x="286.17" y="705.60" width="14.70" height="7.39" fill="#311614" />
<rect x="300.82" y="705.60" width="14.70" height="7.39" fill="#271614" />
<rect x="315.47" y="705.60" width="14.70" height="7.39" fill="#461515" />
<rect x="330.12" y="705.60" width="14.70" height="7.39" fill="#1d2f20" />
<rect x="344.77" y="705.60" width="14.70" height="7.39" fill="#271614" />
<rect x="359.41" y="705.60" width="14.70" height="7.39" fill="#2d572c" />
<rect x="374.06" y="705.60" width="14.70" height="7.39" fill="#468036" />
<rect x="388.71" y="705.60" width="14.70" height="7.39" fill="#244326" />
<rect x="403.36" y="705.60" width="14.70" height="7.39" fill="#33612e" />
<rect x="418.01" y="705.60" width="14.70" height="7.39" fill="#203924" />
<rect x="432.66" y="705.60" width="14.70" height="7.39" fill="#271614" />
<rect x="447.30" y="705.60" width="14.70" height="7.39" fill="#271614" />
<rect x="461.95" y="705.60" width="14.70" height="7.39" fill="#1d2f20" />
<rect x="51.80" y="712.94" width="14.70" height="7.39" fill="#b01317" />
<rect x="66.45" y="712.94" width="14.70" height="7.39" fill="#271614" />
<rect x="81.10" y="712.94" width="14.70" height="7.39" fill="#a61317" />
<rect x="95.74" y="712.94" width="14.70" height="7.39" fill="#461515" />
<rect x="110.39" y="712.94" width="14.70" height="7.39" fill="#271614" />
<rect x="125.04" y="712.94" width="14.70" height="7.39" fill="#1b241d" />
<rect x="139.69" y="712.94" width="14.70" height="7.39" fill="#7b1416" />
<rect x="154.34" y="712.94" width="14.70" height="7.39" fill="#5c1515" />
<rect x="168.99" y="712.94" width="14.70" height="7.39" fill="#3c1515" />
<rect x="183.63" y="712.94" width="14.70" height="7.39" fill="#1c1614" />
<rect x="198.28" y="712.94" width="14.70" height="7.39" fill="#311614" />
<rect x="212.93" y="712.94" width="14.70" height="7.39" fill="#311614" />
<rect x="227.58" y="712.94" width="14.70" height="7.39" fill="#311614" />
<rect x="242.23" y="712.94" width="14.70" height="7.39" fill="#861416" />
<rect x="256.88" y="712.94" width="14.70" height="7.39" fill="#271614" />
<rect x="271.52" y="712.94" width="14.70" height="7.39" fill="#191a19" />
<rect x="286.17" y="712.94" width="14.70" height="7.39" fill="#284d29" />
<rect x="300.82" y="712.94" width="14.70" height="7.39" fill="#2d572c" />
<rect x="315.47" y="712.94" width="14.70" height="7.39" fill="#311614" />
<rect x="330.12" y="712.94" width="14.70" height="7.39" fill="#191a19" />
<rect x="344.77" y="712.94" width="14.70" height="7.39" fill="#271614" />
<rect x="359.41" y="712.94" width="14.70" height="7.39" fill="#244326" />
<rect x="374.06" y="712.94" width="14.70" height="7.39" fill="#1c1614" />
<rect x="388.71" y="712.94" width="14.70" height="7.39" fill="#203924" />
<rect x="403.36" y="712.94" width="14.70" height="7.39" fill="#244326" />
<rect x="418.01" y="712.94" width="14.70" height="7.39" fill="#386b31" />
<rect x="432.66" y="712.94" width="14.70" height="7.39" fill="#244326" />
<rect x="447.30" y="712.94" width="14.70" height="7.39" fill="#1c1614" />
<rect x="461.95" y="712.94" width="14.70" height="7.39" fill="#203924" />
<rect x="51.80" y="720.28" width="14.70" height="7.39" fill="#d01218" />
<rect x="66.45" y="720.28" width="14.70" height="7.39" fill="#271614" />
<rect x="81.10" y="720.28" width="14.70" height="7.39" fill="#a61317" />
<rect x="95.74" y="720.28" width="14.70" height="7.39" fill="#461515" />
<rect x="110.39" y="720.28" width="14.70" height="7.39" fill="#311614" />
<rect x="125.04" y="720.28" width="14.70" height="7.39" fill="#1b241d" />
<rect x="139.69" y="720.28" width="14.70" height="7.39" fill="#661515" />
<rect x="154.34" y="720.28" width="14.70" height="7.39" fill="#511515" />
<rect x="168.99" y="720.28" width="14.70" height="7.39" fill="#311614" />
<rect x="183.63" y="720.28" width="14.70" height="7.39" fill="#311614" />
<rect x="198.28" y="720.28" width="14.70" height="7.39" fill="#461515" />
<rect x="212.93" y="720.28" width="14.70" height="7.39" fill="#311614" />
<rect x="227.58" y="720.28" width="14.70" height="7.39" fill="#191a19" />
<rect x="242.23" y="720.28" width="14.70" height="7.39" fill="#861416" />
<rect x="256.88" y="720.28" width="14.70" height="7.39" fill="#311614" />
<rect x="271.52" y="720.28" width="14.70" height="7.39" fill="#311614" />
<rect x="286.17" y="720.28" width="14.70" height="7.39" fill="#271614" />
<rect x="300.82" y="720.28" width="14.70" height="7.39" fill="#461515" />
<rect x="315.47" y="720.28" width="14.70" height="7.39" fill="#5c1515" />
<rect x="330.12" y="720.28" width="14.70" height="7.39" fill="#271614" />
<rect x="344.77" y="720.28" width="14.70" height="7.39" fill="#271614" />
<rect x="359.41" y="720.28" width="14.70" height="7.39" fill="#244326" />
<rect x="374.06" y="720.28" width="14.70" height="7.39" fill="#203924" />
<rect x="388.71" y="720.28" width="14.70" height="7.39" fill="#3f7633" />
<rect x="403.36" y="720.28" width="14.70" height="7.39" fill="#1b241d" />
<rect x="418.01" y="720.28" width="14.70" height="7.39" fill="#271614" />
<rect x="432.66" y="720.28" width="14.70" height="7.39" fill="#1b241d" />
<rect x="447.30" y="720.28" width="14.70" height="7.39" fill="#1c1614" />
<rect x="461.95" y="720.28" width="14.70" height="7.39" fill="#1b241d" />
<rect x="51.80" y="727.62" width="14.70" height="7.39" fill="#d01218" />
<rect x="66.45" y="727.62" width="14.70" height="7.39" fill="#271614" />
<rect x="81.10" y="727.62" width="14.70" height="7.39" fill="#271614" />
<rect x="95.74" y="727.62" width="14.70" height="7.39" fill="#33612e" />
<rect x="110.39" y="727.62" width="14.70" height="7.39" fill="#1c1614" />
<rect x="125.04" y="727.62" width="14.70" height="7.39" fill="#311614" />
<rect x="139.69" y="727.62" width="14.70" height="7.39" fill="#9b1317" />
<rect x="154.34" y="727.62" width="14.70" height="7.39" fill="#9b1317" />
<rect x="168.99" y="727.62" width="14.70" height="7.39" fill="#911416" />
<rect x="183.63" y="727.62" width="14.70" height="7.39" fill="#1c1614" />
<rect x="198.28" y="727.62" width="14.70" height="7.39" fill="#386b31" />
<rect x="212.93" y="727.62" width="14.70" height="7.39" fill="#311614" />
<rect x="227.58" y="727.62" width="14.70" height="7.39" fill="#244326" />
<rect x="242.23" y="727.62" width="14.70" height="7.39" fill="#3c1515" />
<rect x="256.88" y="727.62" width="14.70" height="7.39" fill="#311614" />
<rect x="271.52" y="727.62" width="14.70" height="7.39" fill="#271614" />
<rect x="286.17" y="727.62" width="14.70" height="7.39" fill="#1d2f20" />
<rect x="300.82" y="727.62" width="14.70" height="7.39" fill="#461515" />
<rect x="315.47" y="727.62" width="14.70" height="7.39" fill="#311614" />
<rect x="330.12" y="727.62" width="14.70" height="7.39" fill="#5c1515" />
<rect x="344.77" y="727.62" width="14.70" height="7.39" fill="#7dc343" />
<rect x="359.41" y="727.62" width="14.70" height="7.39" fill="#244326" />
<rect x="374.06" y="727.62" width="14.70" height="7.39" fill="#244326" />
<rect x="388.71" y="727.62" width="14.70" height="7.39" fill="#386b31" />
<rect x="403.36" y="727.62" width="14.70" height="7.39" fill="#3f7633" />
<rect x="418.01" y="727.62" width="14.70" height="7.39" fill="#244326" />
<rect x="432.66" y="727.62" width="14.70" height="7.39" fill="#1b241d" />
<rect x="447.30" y="727.62" width="14.70" height="7.39" fill="#1b241d" />
<rect x="461.95" y="727.62" width="14.70" height="7.39" fill="#386b31" />
<rect x="51.80" y="734.96" width="14.70" height="7.39" fill="#d01218" />
<rect x="66.45" y="734.96" width="14.70" height="7.39" fill="#386b31" />
<rect x="81.10" y="734.96" width="14.70" height="7.39" fill="#1c1614" />
<rect x="95.74" y="734.96" width="14.70" height="7.39" fill="#1d2f20" />
<rect x="110.39" y="734.96" width="14.70" height="7.39" fill="#33612e" />
<rect x="125.04" y="734.96" width="14.70" height="7.39" fill="#311614" />
<rect x="139.69" y="734.96" width="14.70" height="7.39" fill="#311614" />
<rect x="154.34" y="734.96" width="14.70" height="7.39" fill="#5c1515" />
<rect x="168.99" y="734.96" width="14.70" height="7.39" fill="#3c1515" />
<rect x="183.63" y="734.96" width="14.70" height="7.39" fill="#461515" />
<rect x="198.28" y="734.96" width="14.70" height="7.39" fill="#33612e" />
<rect x="212.93" y="734.96" width="14.70" height="7.39" fill="#271614" />
<rect x="227.58" y="734.96" width="14.70" height="7.39" fill="#191a19" />
<rect x="242.23" y="734.96" width="14.70" height="7.39" fill="#3c1515" />
<rect x="256.88" y="734.96" width="14.70" height="7.39" fill="#271614" />
<rect x="271.52" y="734.96" width="14.70" height="7.39" fill="#511515" />
<rect x="286.17" y="734.96" width="14.70" height="7.39" fill="#311614" />
<rect x="300.82" y="734.96" width="14.70" height="7.39" fill="#7b1416" />
<rect x="315.47" y="734.96" width="14.70" height="7.39" fill="#311614" />
<rect x="330.12" y="734.96" width="14.70" height="7.39" fill="#311614" />
<rect x="344.77" y="734.96" width="14.70" height="7.39" fill="#4d8a38" />
<rect x="359.41" y="734.96" width="14.70" height="7.39" fill="#244326" />
<rect x="374.06" y="734.96" width="14.70" height="7.39" fill="#203924" />
<rect x="388.71" y="734.96" width="14.70" height="7.39" fill="#33612e" />
<rect x="403.36" y="734.96" width="14.70" height="7.39" fill="#4d8a38" />
<rect x="418.01" y="734.96" width="14.70" height="7.39" fill="#203924" />
<rect x="432.66" y="734.96" width="14.70" height="7.39" fill="#4d8a38" />
<rect x="447.30" y="734.96" width="14.70" height="7.39" fill="#203924" />
<rect x="461.95" y="734.96" width="14.70" height="7.39" fill="#244326" />
<line x1="51.80" y1="595.5" x2="51.80" y2="742.3" stroke="#000" stroke-opacity="0.65" stroke-width="0.75"/>
<line x1="66.45" y1="595.5" x2="66.45" y2="742.3" stroke="#000" stroke-opacity="0.65" stroke-width="0.75"/>
<line x1="81.10" y1="595.5" x2="81.10" y2="742.3" stroke="#000" stroke-opacity="0.65" stroke-width="0.75"/>
<line x1="95.74" y1="595.5" x2="95.74" y2="742.3" stroke="#000" stroke-opacity="0.65" stroke-width="0.75"/>
<line x1="110.39" y1="595.5" x2="110.39" y2="742.3" stroke="#000" stroke-opacity="0.65" stroke-width="0.75"/>
<line x1="125.04" y1="595.5" x2="125.04" y2="742.3" stroke="#000" stroke-opacity="0.65" stroke-width="0.75"/>
<line x1="139.69" y1="595.5" x2="139.69" y2="742.3" stroke="#000" stroke-opacity="0.65" stroke-width="0.75"/>
<line x1="154.34" y1="595.5" x2="154.34" y2="742.3" stroke="#000" stroke-opacity="0.65" stroke-width="0.75"/>
<line x1="168.99" y1="595.5" x2="168.99" y2="742.3" stroke="#000" stroke-opacity="0.65" stroke-width="0.75"/>
<line x1="183.63" y1="595.5" x2="183.63" y2="742.3" stroke="#000" stroke-opacity="0.65" stroke-width="0.75"/>
<line x1="198.28" y1="595.5" x2="198.28" y2="742.3" stroke="#000" stroke-opacity="0.65" stroke-width="0.75"/>
<line x1="212.93" y1="595.5" x2="212.93" y2="742.3" stroke="#000" stroke-opacity="0.65" stroke-width="0.75"/>
<line x1="227.58" y1="595.5" x2="227.58" y2="742.3" stroke="#000" stroke-opacity="0.65" stroke-width="0.75"/>
<line x1="242.23" y1="595.5" x2="242.23" y2="742.3" stroke="#000" stroke-opacity="0.65" stroke-width="0.75"/>
<line x1="256.88" y1="595.5" x2="256.88" y2="742.3" stroke="#000" stroke-opacity="0.65" stroke-width="0.75"/>
<line x1="271.52" y1="595.5" x2="271.52" y2="742.3" stroke="#000" stroke-opacity="0.65" stroke-width="0.75"/>
<line x1="286.17" y1="595.5" x2="286.17" y2="742.3" stroke="#000" stroke-opacity="0.65" stroke-width="0.75"/>
<line x1="300.82" y1="595.5" x2="300.82" y2="742.3" stroke="#000" stroke-opacity="0.65" stroke-width="0.75"/>
<line x1="315.47" y1="595.5" x2="315.47" y2="742.3" stroke="#000" stroke-opacity="0.65" stroke-width="0.75"/>
<line x1="330.12" y1="595.5" x2="330.12" y2="742.3" stroke="#000" stroke-opacity="0.65" stroke-width="0.75"/>
<line x1="344.77" y1="595.5" x2="344.77" y2="742.3" stroke="#000" stroke-opacity="0.65" stroke-width="0.75"/>
<line x1="359.41" y1="595.5" x2="359.41" y2="742.3" stroke="#000" stroke-opacity="0.65" stroke-width="0.75"/>
<line x1="374.06" y1="595.5" x2="374.06" y2="742.3" stroke="#000" stroke-opacity="0.65" stroke-width="0.75"/>
<line x1="388.71" y1="595.5" x2="388.71" y2="742.3" stroke="#000" stroke-opacity="0.65" stroke-width="0.75"/>
<line x1="403.36" y1="595.5" x2="403.36" y2="742.3" stroke="#000" stroke-opacity="0.65" stroke-width="0.75"/>
<line x1="418.01" y1="595.5" x2="418.01" y2="742.3" stroke="#000" stroke-opacity="0.65" stroke-width="0.75"/>
<line x1="432.66" y1="595.5" x2="432.66" y2="742.3" stroke="#000" stroke-opacity="0.65" stroke-width="0.75"/>
<line x1="447.30" y1="595.5" x2="447.30" y2="742.3" stroke="#000" stroke-opacity="0.65" stroke-width="0.75"/>
<line x1="461.95" y1="595.5" x2="461.95" y2="742.3" stroke="#000" stroke-opacity="0.65" stroke-width="0.75"/>
<line x1="476.60" y1="595.5" x2="476.60" y2="742.3" stroke="#000" stroke-opacity="0.65" stroke-width="0.75"/>
<line x1="51.8" y1="595.50" x2="476.6" y2="595.50" stroke="#000" stroke-opacity="0.65" stroke-width="0.75"/>
<line x1="51.8" y1="602.84" x2="476.6" y2="602.84" stroke="#000" stroke-opacity="0.65" stroke-width="0.75"/>
<line x1="51.8" y1="610.18" x2="476.6" y2="610.18" stroke="#000" stroke-opacity="0.65" stroke-width="0.75"/>
<line x1="51.8" y1="617.52" x2="476.6" y2="617.52" stroke="#000" stroke-opacity="0.65" stroke-width="0.75"/>
<line x1="51.8" y1="624.86" x2="476.6" y2="624.86" stroke="#000" stroke-opacity="0.65" stroke-width="0.75"/>
<line x1="51.8" y1="632.20" x2="476.6" y2="632.20" stroke="#000" stroke-opacity="0.65" stroke-width="0.75"/>
<line x1="51.8" y1="639.54" x2="476.6" y2="639.54" stroke="#000" stroke-opacity="0.65" stroke-width="0.75"/>
<line x1="51.8" y1="646.88" x2="476.6" y2="646.88" stroke="#000" stroke-opacity="0.65" stroke-width="0.75"/>
<line x1="51.8" y1="654.22" x2="476.6" y2="654.22" stroke="#000" stroke-opacity="0.65" stroke-width="0.75"/>
<line x1="51.8" y1="661.56" x2="476.6" y2="661.56" stroke="#000" stroke-opacity="0.65" stroke-width="0.75"/>
<line x1="51.8" y1="668.90" x2="476.6" y2="668.90" stroke="#000" stroke-opacity="0.65" stroke-width="0.75"/>
<line x1="51.8" y1="676.24" x2="476.6" y2="676.24" stroke="#000" stroke-opacity="0.65" stroke-width="0.75"/>
<line x1="51.8" y1="683.58" x2="476.6" y2="683.58" stroke="#000" stroke-opacity="0.65" stroke-width="0.75"/>
<line x1="51.8" y1="690.92" x2="476.6" y2="690.92" stroke="#000" stroke-opacity="0.65" stroke-width="0.75"/>
<line x1="51.8" y1="698.26" x2="476.6" y2="698.26" stroke="#000" stroke-opacity="0.65" stroke-width="0.75"/>
<line x1="51.8" y1="705.60" x2="476.6" y2="705.60" stroke="#000" stroke-opacity="0.65" stroke-width="0.75"/>
<line x1="51.8" y1="712.94" x2="476.6" y2="712.94" stroke="#000" stroke-opacity="0.65" stroke-width="0.75"/>
<line x1="51.8" y1="720.28" x2="476.6" y2="720.28" stroke="#000" stroke-opacity="0.65" stroke-width="0.75"/>
<line x1="51.8" y1="727.62" x2="476.6" y2="727.62" stroke="#000" stroke-opacity="0.65" stroke-width="0.75"/>
<line x1="51.8" y1="734.96" x2="476.6" y2="734.96" stroke="#000" stroke-opacity="0.65" stroke-width="0.75"/>
<line x1="51.8" y1="742.30" x2="476.6" y2="742.30" stroke="#000" stroke-opacity="0.65" stroke-width="0.75"/>
<text x="480.30" y="601.57" font-family="Liberation Sans, sans-serif" font-size="6.6" font-style="italic"  stroke="#000" stroke-width="0.1">COL24A1</text>
<text x="480.30" y="608.91" font-family="Liberation Sans, sans-serif" font-size="6.6" font-style="italic"  stroke="#000" stroke-width="0.1">CD79B</text>
<text x="480.30" y="616.25" font-family="Liberation Sans, sans-serif" font-size="6.6" font-style="italic"  stroke="#000" stroke-width="0.1">KRAS</text>
<text x="480.30" y="623.59" font-family="Liberation Sans, sans-serif" font-size="6.6" font-style="italic"  stroke="#000" stroke-width="0.1">CD40</text>
<text x="480.30" y="630.93" font-family="Liberation Sans, sans-serif" font-size="6.6" font-style="italic"  stroke="#000" stroke-width="0.1">BCL2L1</text>
<text x="480.30" y="638.27" font-family="Liberation Sans, sans-serif" font-size="6.6" font-style="italic"  stroke="#000" stroke-width="0.1">PLA1A</text>
<text x="480.30" y="645.61" font-family="Liberation Sans, sans-serif" font-size="6.6" font-style="italic"  stroke="#000" stroke-width="0.1">ALKBH3</text>
<text x="480.30" y="652.95" font-family="Liberation Sans, sans-serif" font-size="6.6" font-style="italic"  stroke="#000" stroke-width="0.1">PLA2G4C</text>
<text x="480.30" y="660.29" font-family="Liberation Sans, sans-serif" font-size="6.6" font-style="italic"  stroke="#000" stroke-width="0.1">PLCB1</text>
<text x="480.30" y="667.63" font-family="Liberation Sans, sans-serif" font-size="6.6" font-style="italic"  stroke="#000" stroke-width="0.1">NOS3</text>
<text x="480.30" y="674.97" font-family="Liberation Sans, sans-serif" font-size="6.6" font-style="italic"  stroke="#000" stroke-width="0.1">FOXP1</text>
<text x="480.30" y="682.31" font-family="Liberation Sans, sans-serif" font-size="6.6" font-style="italic"  stroke="#000" stroke-width="0.1">GNG12</text>
<text x="480.30" y="689.65" font-family="Liberation Sans, sans-serif" font-size="6.6" font-style="italic"  stroke="#000" stroke-width="0.1">LFNG</text>
<text x="480.30" y="696.99" font-family="Liberation Sans, sans-serif" font-size="6.6" font-style="italic"  stroke="#000" stroke-width="0.1">PPP3CA</text>
<text x="480.30" y="704.33" font-family="Liberation Sans, sans-serif" font-size="6.6" font-style="italic"  stroke="#000" stroke-width="0.1">JAK1</text>
<text x="480.30" y="711.67" font-family="Liberation Sans, sans-serif" font-size="6.6" font-style="italic"  stroke="#000" stroke-width="0.1">NOTCH2</text>
<text x="480.30" y="719.01" font-family="Liberation Sans, sans-serif" font-size="6.6" font-style="italic"  stroke="#000" stroke-width="0.1">GNA11</text>
<text x="480.30" y="726.35" font-family="Liberation Sans, sans-serif" font-size="6.6" font-style="italic"  stroke="#000" stroke-width="0.1">TGFBR2</text>
<text x="480.30" y="733.69" font-family="Liberation Sans, sans-serif" font-size="6.6" font-style="italic"  stroke="#000" stroke-width="0.1">EPHA2</text>
<text x="480.30" y="741.03" font-family="Liberation Sans, sans-serif" font-size="6.6" font-style="italic"  stroke="#000" stroke-width="0.1">ID1</text>
<path d="M103.07,595.50 V592.70 H117.72 V595.50 M110.39,592.70 V590.40 H132.37 V595.50 M147.01,595.50 V592.40 H161.66 V595.50 M176.31,595.50 V592.40 H190.96 V595.50 M154.34,592.40 V590.40 H183.63 V592.40 M205.61,595.50 V593.20 H220.26 V595.50 M168.99,590.40 V588.10 H212.93 V593.20 M121.38,590.40 V585.00 H190.96 V588.10 M88.42,595.50 V582.20 H156.17 V585.00 M264.20,595.50 V592.10 H278.85 V595.50 M271.52,592.10 V590.80 H293.50 V595.50 M282.51,590.80 V588.60 H308.14 V595.50 M249.55,595.50 V587.30 H295.33 V588.60 M322.79,595.50 V593.10 H337.44 V595.50 M272.44,587.30 V585.00 H330.12 V593.10 M234.90,595.50 V582.30 H301.28 V585.00 M122.29,582.20 V579.60 H268.09 V582.30 M73.77,595.50 V575.50 H195.19 V579.60 M366.74,595.50 V592.70 H381.39 V595.50 M374.06,592.70 V589.60 H396.03 V595.50 M439.98,595.50 V593.50 H454.63 V595.50 M425.33,595.50 V591.90 H447.30 V593.50 M436.32,591.90 V589.40 H469.28 V595.50 M410.68,595.50 V586.50 H452.80 V589.40 M385.05,589.60 V583.60 H431.74 V586.50 M352.09,595.50 V580.30 H408.39 V583.60 M134.48,575.50 V571.20 H380.24 V580.30 M59.12,595.50 V565.50 H257.36 V571.20" fill="none" stroke="#59607a" stroke-width="1.1"/>
<path d="M51.80,621.19 H49.80 V628.53 H51.80 M51.80,613.85 H47.30 V624.86 H49.80 M51.80,606.51 H44.40 V619.35 H47.30 M51.80,657.89 H48.60 V665.23 H51.80 M51.80,701.93 H50.00 V709.27 H51.80 M51.80,694.59 H48.40 V705.60 H50.00 M51.80,716.61 H49.50 V723.95 H51.80 M48.40,700.09 H46.30 V720.28 H49.50 M51.80,687.25 H44.00 V710.19 H46.30 M51.80,679.91 H41.50 V698.72 H44.00 M51.80,731.29 H49.00 V738.63 H51.80 M41.50,689.31 H39.40 V734.96 H49.00 M51.80,672.57 H36.20 V712.14 H39.40 M48.60,661.56 H33.50 V692.35 H36.20 M51.80,650.55 H30.20 V676.96 H33.50 M51.80,643.21 H26.50 V663.75 H30.20 M51.80,635.87 H22.50 V653.48 H26.50 M44.40,612.93 H16.70 V644.68 H22.50 M51.80,599.17 H8.70 V628.80 H16.70" fill="none" stroke="#59607a" stroke-width="1.1"/>
<rect x="0" y="0" width="1.6" height="751" fill="#000"/>
<rect x="0" y="0" width="520" height="1.6" fill="#000"/>
<rect x="518" y="0" width="2" height="751" fill="#000"/>
<rect x="0" y="748.6" width="520" height="2.4" fill="#000"/>
</svg>
</body></html>
